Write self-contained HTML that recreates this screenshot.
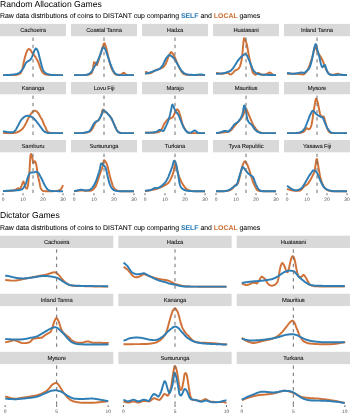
<!DOCTYPE html>
<html><head><meta charset="utf-8"><style>html,body{margin:0;padding:0;background:#fff;width:350px;height:413px;overflow:hidden}</style></head>
<body>
<svg width="350" height="413" viewBox="0 0 350 413" style="display:block">
<rect width="350" height="413" fill="#fff"/>
<rect x="0.00" y="23.90" width="66.00" height="12.3" fill="#D9D9D9"/>
<path d="M3.0,75.1 L3.5,75.1 L4.0,75.1 L4.5,75.1 L5.0,75.1 L5.5,75.1 L6.0,75.1 L6.5,75.1 L7.0,75.1 L7.5,75.1 L8.0,75.1 L8.5,75.1 L9.0,75.1 L9.5,75.1 L10.0,75.1 L10.5,75.1 L11.0,75.0 L11.5,75.0 L12.0,75.0 L12.5,75.0 L13.0,75.0 L13.5,75.0 L14.0,75.0 L14.5,75.0 L15.0,75.0 L15.5,74.9 L16.0,74.8 L16.5,74.8 L17.0,74.7 L17.5,74.6 L18.0,74.5 L18.5,74.4 L19.0,74.2 L19.5,73.9 L20.0,73.5 L20.5,73.1 L21.0,72.4 L21.5,71.4 L22.0,70.1 L22.5,68.3 L23.0,66.1 L23.5,63.5 L24.0,61.0 L24.5,58.9 L25.0,57.1 L25.5,55.4 L26.0,53.8 L26.5,52.3 L27.0,51.0 L27.5,50.2 L28.0,49.6 L28.5,49.1 L29.0,49.0 L29.5,49.2 L30.0,49.6 L30.5,50.0 L31.0,50.8 L31.5,51.7 L32.0,52.6 L32.5,53.3 L33.0,53.9 L33.5,54.5 L34.0,55.1 L34.5,55.7 L35.0,56.4 L35.5,57.1 L36.0,57.9 L36.5,58.7 L37.0,59.6 L37.5,60.5 L38.0,61.5 L38.5,62.7 L39.0,64.1 L39.5,65.6 L40.0,67.0 L40.5,68.4 L41.0,69.6 L41.5,70.6 L42.0,71.6 L42.5,72.3 L43.0,72.9 L43.5,73.4 L44.0,73.7 L44.5,74.0 L45.0,74.2 L45.5,74.3 L46.0,74.5 L46.5,74.6 L47.0,74.7 L47.5,74.7 L48.0,74.8 L48.5,74.8 L49.0,74.9 L49.5,74.9 L50.0,75.0 L50.5,75.0 L51.0,75.0 L51.5,75.0 L52.0,75.1 L52.5,75.1 L53.0,75.1 L53.5,75.1 L54.0,75.1 L54.5,75.1 L55.0,75.1 L55.5,75.1 L56.0,75.1 L56.5,75.1 L57.0,75.1 L57.5,75.1 L58.0,75.1 L58.5,75.1 L59.0,75.1 L59.5,75.1 L60.0,75.1 L60.5,75.1 L61.0,75.1 L61.5,75.1 L62.0,75.1 L62.5,75.1 L63.0,75.1" fill="none" stroke="#D07137" stroke-width="1.95" stroke-linejoin="round"/>
<path d="M3.0,75.1 L3.5,75.1 L4.0,75.1 L4.5,75.1 L5.0,75.1 L5.5,75.1 L6.0,75.1 L6.5,75.0 L7.0,75.0 L7.5,75.0 L8.0,75.0 L8.5,75.0 L9.0,75.0 L9.5,74.9 L10.0,74.9 L10.5,74.8 L11.0,74.8 L11.5,74.7 L12.0,74.7 L12.5,74.6 L13.0,74.6 L13.5,74.5 L14.0,74.5 L14.5,74.4 L15.0,74.3 L15.5,74.2 L16.0,74.1 L16.5,74.0 L17.0,73.9 L17.5,73.7 L18.0,73.5 L18.5,73.3 L19.0,73.1 L19.5,72.7 L20.0,72.3 L20.5,71.8 L21.0,71.3 L21.5,70.7 L22.0,70.1 L22.5,69.4 L23.0,68.6 L23.5,67.7 L24.0,66.7 L24.5,65.7 L25.0,64.6 L25.5,63.6 L26.0,62.9 L26.5,62.3 L27.0,61.9 L27.5,61.5 L28.0,61.2 L28.5,60.9 L29.0,60.7 L29.5,60.4 L30.0,60.0 L30.5,59.5 L31.0,58.7 L31.5,57.9 L32.0,56.8 L32.5,55.6 L33.0,54.3 L33.5,52.9 L34.0,51.5 L34.5,50.5 L35.0,49.5 L35.5,48.7 L36.0,48.5 L36.5,48.8 L37.0,49.5 L37.5,50.3 L38.0,51.5 L38.5,53.3 L39.0,55.3 L39.5,57.2 L40.0,59.2 L40.5,61.1 L41.0,63.1 L41.5,65.2 L42.0,67.2 L42.5,68.6 L43.0,69.7 L43.5,70.7 L44.0,71.5 L44.5,72.1 L45.0,72.6 L45.5,73.0 L46.0,73.3 L46.5,73.6 L47.0,73.9 L47.5,74.1 L48.0,74.2 L48.5,74.4 L49.0,74.5 L49.5,74.6 L50.0,74.7 L50.5,74.8 L51.0,74.8 L51.5,74.9 L52.0,74.9 L52.5,74.9 L53.0,75.0 L53.5,75.0 L54.0,75.0 L54.5,75.0 L55.0,75.1 L55.5,75.1 L56.0,75.1 L56.5,75.1 L57.0,75.1 L57.5,75.1 L58.0,75.1 L58.5,75.1 L59.0,75.1 L59.5,75.1 L60.0,75.1 L60.5,75.1 L61.0,75.1 L61.5,75.1 L62.0,75.1 L62.5,75.1 L63.0,75.1" fill="none" stroke="#2E7DB4" stroke-width="1.95" stroke-linejoin="round"/>
<line x1="33.00" y1="76.95" x2="33.00" y2="36.20" stroke="#6E6E6E" stroke-width="1" stroke-dasharray="3.4 3.8"/>
<rect x="71.00" y="23.90" width="66.00" height="12.3" fill="#D9D9D9"/>
<path d="M74.0,75.1 L74.5,75.1 L75.0,75.1 L75.5,75.1 L76.0,75.1 L76.5,75.1 L77.0,75.1 L77.5,75.1 L78.0,75.1 L78.5,75.1 L79.0,75.1 L79.5,75.1 L80.0,75.1 L80.5,75.1 L81.0,75.1 L81.5,75.1 L82.0,75.1 L82.5,75.1 L83.0,75.1 L83.5,75.1 L84.0,75.1 L84.5,75.1 L85.0,75.1 L85.5,75.1 L86.0,75.0 L86.5,75.0 L87.0,74.9 L87.5,74.8 L88.0,74.7 L88.5,74.6 L89.0,74.5 L89.5,74.3 L90.0,74.1 L90.5,73.9 L91.0,73.6 L91.5,73.2 L92.0,72.3 L92.5,70.4 L93.0,68.0 L93.5,65.0 L94.0,62.3 L94.5,62.4 L95.0,62.7 L95.5,63.3 L96.0,64.2 L96.5,64.9 L97.0,65.0 L97.5,63.8 L98.0,62.2 L98.5,60.7 L99.0,59.2 L99.5,57.5 L100.0,55.8 L100.5,54.1 L101.0,52.5 L101.5,50.8 L102.0,49.1 L102.5,47.5 L103.0,46.0 L103.5,44.6 L104.0,43.4 L104.5,43.2 L105.0,44.1 L105.5,45.5 L106.0,47.1 L106.5,48.9 L107.0,51.1 L107.5,53.4 L108.0,55.6 L108.5,57.8 L109.0,60.0 L109.5,62.0 L110.0,63.8 L110.5,65.3 L111.0,66.8 L111.5,68.1 L112.0,69.3 L112.5,70.4 L113.0,71.3 L113.5,72.1 L114.0,72.8 L114.5,73.5 L115.0,74.1 L115.5,74.4 L116.0,74.6 L116.5,74.7 L117.0,74.8 L117.5,74.9 L118.0,74.9 L118.5,74.9 L119.0,74.8 L119.5,74.8 L120.0,74.7 L120.5,74.6 L121.0,74.5 L121.5,74.3 L122.0,73.9 L122.5,73.4 L123.0,73.0 L123.5,72.8 L124.0,72.9 L124.5,73.2 L125.0,73.7 L125.5,74.1 L126.0,74.5 L126.5,74.9 L127.0,75.1 L127.5,75.1 L128.0,75.1 L128.5,75.1 L129.0,75.1 L129.5,75.1 L130.0,75.1 L130.5,75.1 L131.0,75.1 L131.5,75.1 L132.0,75.1 L132.5,75.1 L133.0,75.1 L133.5,75.1 L134.0,75.1" fill="none" stroke="#D07137" stroke-width="1.95" stroke-linejoin="round"/>
<path d="M74.0,75.1 L74.5,75.1 L75.0,75.1 L75.5,75.1 L76.0,75.1 L76.5,75.1 L77.0,75.1 L77.5,75.1 L78.0,75.1 L78.5,75.1 L79.0,75.1 L79.5,75.1 L80.0,75.1 L80.5,75.1 L81.0,75.1 L81.5,75.1 L82.0,75.1 L82.5,75.1 L83.0,75.1 L83.5,75.1 L84.0,75.1 L84.5,75.0 L85.0,75.0 L85.5,75.0 L86.0,74.9 L86.5,74.8 L87.0,74.7 L87.5,74.5 L88.0,74.3 L88.5,74.1 L89.0,73.8 L89.5,73.5 L90.0,73.2 L90.5,72.8 L91.0,72.3 L91.5,71.7 L92.0,71.0 L92.5,70.3 L93.0,69.4 L93.5,68.4 L94.0,67.5 L94.5,66.5 L95.0,65.7 L95.5,64.9 L96.0,64.0 L96.5,63.2 L97.0,62.2 L97.5,61.2 L98.0,60.0 L98.5,58.9 L99.0,57.7 L99.5,56.5 L100.0,55.2 L100.5,53.8 L101.0,52.4 L101.5,51.0 L102.0,49.4 L102.5,48.3 L103.0,47.6 L103.5,47.4 L104.0,47.7 L104.5,48.2 L105.0,48.8 L105.5,49.8 L106.0,51.1 L106.5,52.4 L107.0,53.9 L107.5,55.5 L108.0,57.0 L108.5,58.4 L109.0,59.8 L109.5,61.2 L110.0,62.6 L110.5,64.0 L111.0,65.3 L111.5,66.6 L112.0,67.9 L112.5,69.0 L113.0,70.1 L113.5,71.1 L114.0,71.9 L114.5,72.6 L115.0,73.2 L115.5,73.7 L116.0,74.0 L116.5,74.3 L117.0,74.5 L117.5,74.7 L118.0,74.8 L118.5,74.9 L119.0,75.0 L119.5,75.0 L120.0,75.1 L120.5,75.1 L121.0,75.1 L121.5,75.1 L122.0,75.1 L122.5,75.1 L123.0,75.1 L123.5,75.1 L124.0,75.1 L124.5,75.1 L125.0,75.1 L125.5,75.1 L126.0,75.1 L126.5,75.1 L127.0,75.1 L127.5,75.1 L128.0,75.1 L128.5,75.1 L129.0,75.1 L129.5,75.1 L130.0,75.1 L130.5,75.1 L131.0,75.1 L131.5,75.1 L132.0,75.1 L132.5,75.1 L133.0,75.1 L133.5,75.1 L134.0,75.1" fill="none" stroke="#2E7DB4" stroke-width="1.95" stroke-linejoin="round"/>
<line x1="104.00" y1="76.95" x2="104.00" y2="36.20" stroke="#6E6E6E" stroke-width="1" stroke-dasharray="3.4 3.8"/>
<rect x="142.00" y="23.90" width="66.00" height="12.3" fill="#D9D9D9"/>
<path d="M145.0,71.9 L145.5,71.9 L146.0,72.0 L146.5,72.2 L147.0,72.4 L147.5,72.6 L148.0,73.1 L148.5,73.4 L149.0,73.4 L149.5,73.3 L150.0,73.1 L150.5,73.0 L151.0,72.8 L151.5,72.6 L152.0,72.3 L152.5,72.1 L153.0,71.8 L153.5,71.5 L154.0,71.2 L154.5,70.9 L155.0,70.6 L155.5,70.3 L156.0,70.1 L156.5,69.9 L157.0,69.7 L157.5,69.5 L158.0,69.4 L158.5,69.2 L159.0,69.0 L159.5,68.9 L160.0,68.7 L160.5,68.6 L161.0,68.4 L161.5,68.2 L162.0,67.9 L162.5,67.6 L163.0,67.2 L163.5,66.7 L164.0,66.2 L164.5,65.6 L165.0,65.0 L165.5,64.2 L166.0,63.2 L166.5,61.9 L167.0,60.6 L167.5,59.4 L168.0,58.0 L168.5,56.7 L169.0,55.5 L169.5,54.5 L170.0,53.5 L170.5,52.6 L171.0,52.2 L171.5,52.2 L172.0,52.7 L172.5,53.4 L173.0,54.1 L173.5,54.9 L174.0,55.8 L174.5,56.8 L175.0,57.8 L175.5,58.9 L176.0,60.2 L176.5,61.4 L177.0,62.5 L177.5,63.6 L178.0,64.6 L178.5,65.7 L179.0,66.7 L179.5,67.8 L180.0,68.9 L180.5,69.9 L181.0,70.8 L181.5,71.6 L182.0,72.3 L182.5,72.9 L183.0,73.4 L183.5,73.8 L184.0,74.1 L184.5,74.3 L185.0,74.4 L185.5,74.5 L186.0,74.6 L186.5,74.7 L187.0,74.8 L187.5,74.8 L188.0,74.9 L188.5,74.9 L189.0,75.0 L189.5,75.0 L190.0,75.0 L190.5,75.1 L191.0,75.1 L191.5,75.1 L192.0,75.1 L192.5,75.1 L193.0,75.1 L193.5,75.1 L194.0,75.1 L194.5,75.1 L195.0,75.1 L195.5,75.1 L196.0,75.1 L196.5,75.1 L197.0,75.1 L197.5,75.1 L198.0,75.1 L198.5,75.1 L199.0,75.1 L199.5,75.1 L200.0,75.1 L200.5,75.1 L201.0,75.1 L201.5,75.1 L202.0,75.1 L202.5,75.1 L203.0,75.1 L203.5,75.1 L204.0,75.1 L204.5,75.1 L205.0,75.1" fill="none" stroke="#D07137" stroke-width="1.95" stroke-linejoin="round"/>
<path d="M145.0,73.8 L145.5,73.7 L146.0,73.6 L146.5,73.5 L147.0,73.4 L147.5,73.2 L148.0,73.1 L148.5,73.0 L149.0,72.8 L149.5,72.7 L150.0,72.5 L150.5,72.4 L151.0,72.2 L151.5,72.0 L152.0,71.8 L152.5,71.6 L153.0,71.4 L153.5,71.2 L154.0,71.0 L154.5,70.9 L155.0,70.7 L155.5,70.5 L156.0,70.4 L156.5,70.2 L157.0,70.0 L157.5,69.8 L158.0,69.6 L158.5,69.4 L159.0,69.1 L159.5,68.8 L160.0,68.4 L160.5,68.0 L161.0,67.5 L161.5,67.0 L162.0,66.3 L162.5,65.6 L163.0,64.7 L163.5,63.7 L164.0,62.7 L164.5,61.5 L165.0,60.4 L165.5,59.4 L166.0,58.6 L166.5,57.8 L167.0,57.1 L167.5,56.6 L168.0,56.0 L168.5,55.5 L169.0,55.2 L169.5,55.1 L170.0,55.3 L170.5,55.5 L171.0,55.9 L171.5,56.2 L172.0,56.6 L172.5,57.0 L173.0,57.4 L173.5,57.9 L174.0,58.5 L174.5,59.1 L175.0,59.7 L175.5,60.5 L176.0,61.3 L176.5,62.3 L177.0,63.2 L177.5,64.2 L178.0,65.1 L178.5,66.0 L179.0,66.9 L179.5,67.8 L180.0,68.6 L180.5,69.3 L181.0,70.1 L181.5,70.7 L182.0,71.3 L182.5,71.8 L183.0,72.3 L183.5,72.8 L184.0,73.2 L184.5,73.5 L185.0,73.7 L185.5,73.9 L186.0,74.1 L186.5,74.3 L187.0,74.4 L187.5,74.5 L188.0,74.5 L188.5,74.6 L189.0,74.7 L189.5,74.7 L190.0,74.7 L190.5,74.8 L191.0,74.8 L191.5,74.8 L192.0,74.8 L192.5,74.9 L193.0,74.9 L193.5,74.9 L194.0,74.9 L194.5,74.9 L195.0,74.9 L195.5,74.9 L196.0,74.9 L196.5,74.8 L197.0,74.8 L197.5,74.7 L198.0,74.7 L198.5,74.6 L199.0,74.6 L199.5,74.5 L200.0,74.4 L200.5,74.4 L201.0,74.4 L201.5,74.5 L202.0,74.6 L202.5,74.7 L203.0,74.8 L203.5,74.9 L204.0,74.9 L204.5,75.0 L205.0,75.1" fill="none" stroke="#2E7DB4" stroke-width="1.95" stroke-linejoin="round"/>
<line x1="175.00" y1="76.95" x2="175.00" y2="36.20" stroke="#6E6E6E" stroke-width="1" stroke-dasharray="3.4 3.8"/>
<rect x="213.00" y="23.90" width="66.00" height="12.3" fill="#D9D9D9"/>
<path d="M216.0,72.9 L216.5,73.0 L217.0,73.0 L217.5,73.1 L218.0,73.2 L218.5,73.2 L219.0,73.3 L219.5,73.5 L220.0,73.6 L220.5,73.7 L221.0,73.8 L221.5,73.8 L222.0,73.8 L222.5,73.7 L223.0,73.6 L223.5,73.5 L224.0,73.5 L224.5,73.4 L225.0,73.2 L225.5,73.1 L226.0,73.0 L226.5,72.9 L227.0,72.9 L227.5,73.0 L228.0,73.2 L228.5,73.4 L229.0,73.7 L229.5,74.1 L230.0,74.4 L230.5,74.5 L231.0,74.3 L231.5,74.1 L232.0,73.7 L232.5,73.3 L233.0,72.9 L233.5,72.3 L234.0,71.6 L234.5,71.0 L235.0,70.6 L235.5,70.4 L236.0,70.1 L236.5,69.8 L237.0,69.6 L237.5,69.4 L238.0,69.1 L238.5,68.7 L239.0,68.1 L239.5,67.2 L240.0,66.1 L240.5,64.7 L241.0,62.9 L241.5,60.6 L242.0,57.3 L242.5,52.7 L243.0,47.0 L243.5,41.6 L244.0,38.2 L244.5,38.4 L245.0,39.4 L245.5,40.5 L246.0,41.8 L246.5,43.3 L247.0,45.3 L247.5,48.0 L248.0,50.7 L248.5,53.5 L249.0,56.1 L249.5,58.6 L250.0,61.1 L250.5,63.5 L251.0,65.7 L251.5,67.8 L252.0,69.8 L252.5,71.7 L253.0,72.7 L253.5,73.4 L254.0,73.9 L254.5,74.3 L255.0,74.6 L255.5,74.7 L256.0,74.5 L256.5,74.1 L257.0,73.8 L257.5,73.3 L258.0,73.0 L258.5,72.9 L259.0,73.2 L259.5,73.6 L260.0,73.9 L260.5,74.2 L261.0,74.5 L261.5,74.7 L262.0,74.8 L262.5,74.8 L263.0,74.8 L263.5,74.8 L264.0,74.8 L264.5,74.8 L265.0,74.8 L265.5,74.7 L266.0,74.5 L266.5,74.2 L267.0,73.9 L267.5,73.6 L268.0,73.3 L268.5,73.0 L269.0,72.7 L269.5,72.5 L270.0,72.6 L270.5,72.9 L271.0,73.2 L271.5,73.6 L272.0,74.0 L272.5,74.4 L273.0,74.7 L273.5,74.8 L274.0,74.9 L274.5,75.0 L275.0,75.1 L275.5,75.1 L276.0,75.1" fill="none" stroke="#D07137" stroke-width="1.95" stroke-linejoin="round"/>
<path d="M216.0,73.8 L216.5,73.8 L217.0,73.8 L217.5,73.7 L218.0,73.7 L218.5,73.7 L219.0,73.6 L219.5,73.6 L220.0,73.6 L220.5,73.5 L221.0,73.5 L221.5,73.4 L222.0,73.4 L222.5,73.3 L223.0,73.3 L223.5,73.2 L224.0,73.1 L224.5,73.0 L225.0,72.9 L225.5,72.8 L226.0,72.6 L226.5,72.4 L227.0,72.2 L227.5,72.0 L228.0,71.8 L228.5,71.6 L229.0,71.5 L229.5,71.3 L230.0,71.0 L230.5,70.8 L231.0,70.5 L231.5,70.0 L232.0,69.4 L232.5,68.8 L233.0,68.2 L233.5,67.6 L234.0,66.8 L234.5,66.1 L235.0,65.3 L235.5,64.5 L236.0,63.6 L236.5,62.8 L237.0,62.0 L237.5,61.3 L238.0,60.6 L238.5,59.9 L239.0,59.3 L239.5,58.7 L240.0,58.1 L240.5,57.5 L241.0,57.0 L241.5,56.5 L242.0,56.1 L242.5,55.6 L243.0,55.3 L243.5,54.9 L244.0,54.6 L244.5,54.3 L245.0,54.0 L245.5,54.1 L246.0,54.4 L246.5,54.9 L247.0,55.6 L247.5,56.7 L248.0,57.8 L248.5,58.9 L249.0,60.0 L249.5,61.1 L250.0,62.3 L250.5,63.5 L251.0,64.9 L251.5,66.1 L252.0,67.3 L252.5,68.6 L253.0,69.7 L253.5,70.6 L254.0,71.3 L254.5,71.8 L255.0,72.3 L255.5,72.7 L256.0,73.0 L256.5,73.3 L257.0,73.5 L257.5,73.8 L258.0,73.9 L258.5,74.0 L259.0,74.2 L259.5,74.3 L260.0,74.4 L260.5,74.4 L261.0,74.5 L261.5,74.6 L262.0,74.6 L262.5,74.6 L263.0,74.7 L263.5,74.7 L264.0,74.7 L264.5,74.7 L265.0,74.8 L265.5,74.8 L266.0,74.8 L266.5,74.8 L267.0,74.8 L267.5,74.9 L268.0,74.9 L268.5,74.9 L269.0,74.9 L269.5,74.9 L270.0,74.9 L270.5,75.0 L271.0,75.0 L271.5,75.0 L272.0,75.0 L272.5,75.0 L273.0,75.0 L273.5,75.0 L274.0,75.1 L274.5,75.1 L275.0,75.1 L275.5,75.1 L276.0,75.1" fill="none" stroke="#2E7DB4" stroke-width="1.95" stroke-linejoin="round"/>
<line x1="246.00" y1="76.95" x2="246.00" y2="36.20" stroke="#6E6E6E" stroke-width="1" stroke-dasharray="3.4 3.8"/>
<rect x="284.00" y="23.90" width="66.00" height="12.3" fill="#D9D9D9"/>
<path d="M287.0,73.8 L287.5,73.8 L288.0,73.8 L288.5,73.8 L289.0,73.8 L289.5,73.8 L290.0,73.8 L290.5,73.8 L291.0,73.8 L291.5,73.8 L292.0,73.8 L292.5,73.8 L293.0,73.8 L293.5,73.8 L294.0,73.8 L294.5,73.8 L295.0,73.8 L295.5,73.8 L296.0,73.8 L296.5,73.8 L297.0,73.8 L297.5,73.9 L298.0,73.9 L298.5,74.0 L299.0,74.0 L299.5,74.1 L300.0,74.1 L300.5,74.2 L301.0,74.2 L301.5,74.3 L302.0,74.3 L302.5,74.4 L303.0,74.4 L303.5,74.4 L304.0,74.2 L304.5,73.8 L305.0,73.4 L305.5,72.9 L306.0,72.3 L306.5,71.6 L307.0,70.8 L307.5,69.9 L308.0,68.9 L308.5,67.8 L309.0,66.5 L309.5,65.3 L310.0,64.0 L310.5,62.6 L311.0,61.2 L311.5,59.7 L312.0,58.1 L312.5,56.5 L313.0,54.7 L313.5,52.7 L314.0,49.8 L314.5,47.6 L315.0,47.5 L315.5,48.1 L316.0,48.9 L316.5,49.8 L317.0,50.6 L317.5,51.5 L318.0,52.4 L318.5,53.3 L319.0,54.2 L319.5,55.0 L320.0,55.8 L320.5,56.6 L321.0,57.4 L321.5,58.3 L322.0,59.2 L322.5,60.2 L323.0,61.3 L323.5,62.7 L324.0,64.1 L324.5,65.5 L325.0,66.9 L325.5,68.1 L326.0,69.2 L326.5,70.2 L327.0,71.1 L327.5,71.8 L328.0,72.5 L328.5,73.1 L329.0,73.6 L329.5,74.1 L330.0,74.4 L330.5,74.7 L331.0,74.8 L331.5,74.8 L332.0,74.8 L332.5,74.7 L333.0,74.7 L333.5,74.7 L334.0,74.6 L334.5,74.5 L335.0,74.4 L335.5,74.3 L336.0,74.1 L336.5,74.0 L337.0,73.9 L337.5,73.8 L338.0,73.8 L338.5,73.9 L339.0,74.1 L339.5,74.3 L340.0,74.5 L340.5,74.6 L341.0,74.7 L341.5,74.9 L342.0,75.0 L342.5,75.1 L343.0,75.1 L343.5,75.1 L344.0,75.1 L344.5,75.1 L345.0,75.1 L345.5,75.1 L346.0,75.1 L346.5,75.1 L347.0,75.1" fill="none" stroke="#D07137" stroke-width="1.95" stroke-linejoin="round"/>
<path d="M287.0,72.9 L287.5,73.0 L288.0,73.0 L288.5,73.1 L289.0,73.2 L289.5,73.2 L290.0,73.3 L290.5,73.5 L291.0,73.6 L291.5,73.7 L292.0,73.8 L292.5,73.8 L293.0,73.8 L293.5,73.7 L294.0,73.7 L294.5,73.7 L295.0,73.6 L295.5,73.5 L296.0,73.5 L296.5,73.4 L297.0,73.3 L297.5,73.2 L298.0,73.1 L298.5,73.0 L299.0,72.9 L299.5,72.8 L300.0,72.7 L300.5,72.6 L301.0,72.5 L301.5,72.5 L302.0,72.5 L302.5,72.6 L303.0,72.8 L303.5,72.9 L304.0,72.9 L304.5,72.6 L305.0,72.3 L305.5,71.9 L306.0,71.5 L306.5,71.1 L307.0,70.7 L307.5,70.2 L308.0,69.7 L308.5,69.2 L309.0,68.6 L309.5,67.7 L310.0,66.5 L310.5,65.1 L311.0,63.4 L311.5,61.4 L312.0,59.2 L312.5,56.7 L313.0,54.1 L313.5,51.6 L314.0,49.3 L314.5,47.2 L315.0,45.5 L315.5,44.2 L316.0,44.4 L316.5,46.4 L317.0,48.6 L317.5,50.4 L318.0,52.2 L318.5,54.0 L319.0,55.8 L319.5,57.6 L320.0,59.7 L320.5,62.2 L321.0,64.3 L321.5,65.7 L322.0,66.7 L322.5,67.2 L323.0,66.8 L323.5,66.0 L324.0,65.5 L324.5,65.0 L325.0,65.0 L325.5,66.2 L326.0,67.9 L326.5,69.4 L327.0,70.9 L327.5,72.1 L328.0,72.9 L328.5,73.6 L329.0,74.1 L329.5,74.3 L330.0,74.5 L330.5,74.7 L331.0,74.8 L331.5,74.9 L332.0,75.0 L332.5,75.1 L333.0,75.1 L333.5,75.1 L334.0,75.1 L334.5,75.1 L335.0,75.0 L335.5,75.0 L336.0,74.9 L336.5,74.9 L337.0,74.9 L337.5,74.8 L338.0,74.8 L338.5,74.8 L339.0,74.8 L339.5,74.8 L340.0,74.8 L340.5,74.8 L341.0,74.8 L341.5,74.8 L342.0,74.8 L342.5,74.8 L343.0,74.9 L343.5,74.9 L344.0,74.9 L344.5,74.9 L345.0,75.0 L345.5,75.0 L346.0,75.0 L346.5,75.1 L347.0,75.1" fill="none" stroke="#2E7DB4" stroke-width="1.95" stroke-linejoin="round"/>
<line x1="317.00" y1="76.95" x2="317.00" y2="36.20" stroke="#6E6E6E" stroke-width="1" stroke-dasharray="3.4 3.8"/>
<rect x="0.00" y="81.95" width="66.00" height="12.3" fill="#D9D9D9"/>
<path d="M3.0,132.7 L3.5,132.8 L4.0,132.8 L4.5,132.9 L5.0,132.9 L5.5,132.9 L6.0,133.0 L6.5,133.0 L7.0,133.0 L7.5,133.0 L8.0,133.0 L8.5,133.1 L9.0,133.1 L9.5,133.1 L10.0,133.1 L10.5,133.1 L11.0,133.1 L11.5,133.1 L12.0,133.1 L12.5,133.1 L13.0,133.1 L13.5,133.1 L14.0,133.0 L14.5,132.9 L15.0,132.8 L15.5,132.8 L16.0,132.6 L16.5,132.5 L17.0,132.4 L17.5,132.2 L18.0,132.0 L18.5,131.7 L19.0,131.4 L19.5,131.1 L20.0,130.8 L20.5,130.5 L21.0,130.1 L21.5,129.6 L22.0,129.2 L22.5,128.7 L23.0,128.1 L23.5,127.4 L24.0,126.7 L24.5,125.9 L25.0,125.0 L25.5,124.1 L26.0,123.2 L26.5,122.2 L27.0,121.1 L27.5,120.0 L28.0,118.9 L28.5,118.0 L29.0,117.1 L29.5,116.2 L30.0,115.3 L30.5,114.5 L31.0,113.8 L31.5,113.1 L32.0,112.6 L32.5,111.9 L33.0,111.4 L33.5,111.0 L34.0,110.7 L34.5,110.7 L35.0,110.7 L35.5,110.9 L36.0,111.1 L36.5,111.3 L37.0,111.7 L37.5,112.2 L38.0,112.9 L38.5,113.6 L39.0,114.3 L39.5,115.2 L40.0,116.2 L40.5,117.1 L41.0,118.0 L41.5,118.8 L42.0,119.6 L42.5,120.6 L43.0,121.8 L43.5,123.2 L44.0,124.4 L44.5,125.5 L45.0,126.4 L45.5,127.3 L46.0,128.5 L46.5,129.8 L47.0,131.0 L47.5,131.6 L48.0,132.0 L48.5,132.4 L49.0,132.6 L49.5,132.7 L50.0,132.8 L50.5,132.9 L51.0,133.0 L51.5,133.1 L52.0,133.1 L52.5,133.1 L53.0,133.1 L53.5,133.1 L54.0,133.1 L54.5,133.1 L55.0,133.1 L55.5,133.1 L56.0,133.1 L56.5,133.1 L57.0,133.1 L57.5,133.1 L58.0,133.1 L58.5,133.1 L59.0,133.1 L59.5,133.1 L60.0,133.1 L60.5,133.1 L61.0,133.1 L61.5,133.1 L62.0,133.1 L62.5,133.1 L63.0,133.1" fill="none" stroke="#D07137" stroke-width="1.95" stroke-linejoin="round"/>
<path d="M3.0,131.3 L3.5,131.4 L4.0,131.5 L4.5,131.5 L5.0,131.6 L5.5,131.7 L6.0,131.7 L6.5,131.8 L7.0,132.0 L7.5,132.1 L8.0,132.2 L8.5,132.3 L9.0,132.3 L9.5,132.3 L10.0,132.3 L10.5,132.3 L11.0,132.3 L11.5,132.3 L12.0,132.3 L12.5,132.3 L13.0,132.2 L13.5,131.9 L14.0,131.6 L14.5,131.2 L15.0,130.7 L15.5,130.2 L16.0,129.4 L16.5,128.5 L17.0,127.5 L17.5,126.6 L18.0,125.7 L18.5,124.7 L19.0,123.8 L19.5,122.8 L20.0,121.9 L20.5,121.0 L21.0,120.2 L21.5,119.6 L22.0,119.0 L22.5,118.5 L23.0,118.0 L23.5,117.5 L24.0,117.2 L24.5,116.8 L25.0,116.5 L25.5,116.2 L26.0,116.1 L26.5,115.9 L27.0,115.8 L27.5,115.7 L28.0,115.8 L28.5,115.9 L29.0,116.0 L29.5,116.1 L30.0,116.2 L30.5,116.4 L31.0,116.6 L31.5,116.8 L32.0,117.1 L32.5,117.4 L33.0,117.8 L33.5,118.2 L34.0,118.7 L34.5,119.2 L35.0,119.7 L35.5,120.3 L36.0,120.9 L36.5,121.6 L37.0,122.2 L37.5,122.9 L38.0,123.5 L38.5,124.2 L39.0,124.8 L39.5,125.5 L40.0,126.2 L40.5,126.8 L41.0,127.5 L41.5,128.2 L42.0,128.9 L42.5,129.6 L43.0,130.2 L43.5,130.7 L44.0,131.2 L44.5,131.6 L45.0,132.0 L45.5,132.2 L46.0,132.4 L46.5,132.6 L47.0,132.8 L47.5,132.9 L48.0,132.9 L48.5,133.0 L49.0,133.1 L49.5,133.1 L50.0,133.1 L50.5,133.1 L51.0,133.1 L51.5,133.1 L52.0,133.1 L52.5,133.1 L53.0,133.1 L53.5,133.1 L54.0,133.1 L54.5,133.1 L55.0,133.1 L55.5,133.1 L56.0,133.1 L56.5,133.1 L57.0,133.1 L57.5,133.1 L58.0,133.1 L58.5,133.1 L59.0,133.1 L59.5,133.1 L60.0,133.1 L60.5,133.1 L61.0,133.1 L61.5,133.1 L62.0,133.1 L62.5,133.1 L63.0,133.1" fill="none" stroke="#2E7DB4" stroke-width="1.95" stroke-linejoin="round"/>
<line x1="33.00" y1="135.00" x2="33.00" y2="94.25" stroke="#6E6E6E" stroke-width="1" stroke-dasharray="3.4 3.8"/>
<rect x="71.00" y="81.95" width="66.00" height="12.3" fill="#D9D9D9"/>
<path d="M74.0,133.1 L74.5,133.1 L75.0,133.1 L75.5,133.1 L76.0,133.1 L76.5,133.1 L77.0,133.1 L77.5,133.1 L78.0,133.1 L78.5,133.1 L79.0,133.1 L79.5,133.1 L80.0,133.1 L80.5,133.1 L81.0,133.1 L81.5,133.1 L82.0,133.1 L82.5,133.1 L83.0,133.0 L83.5,133.0 L84.0,132.9 L84.5,132.8 L85.0,132.8 L85.5,132.7 L86.0,132.6 L86.5,132.5 L87.0,132.4 L87.5,132.3 L88.0,132.2 L88.5,132.0 L89.0,131.8 L89.5,131.6 L90.0,131.3 L90.5,131.0 L91.0,130.6 L91.5,130.0 L92.0,129.4 L92.5,128.6 L93.0,127.7 L93.5,126.6 L94.0,125.5 L94.5,124.5 L95.0,123.6 L95.5,122.7 L96.0,122.1 L96.5,121.6 L97.0,121.3 L97.5,121.0 L98.0,120.6 L98.5,120.1 L99.0,119.4 L99.5,118.6 L100.0,117.8 L100.5,116.9 L101.0,115.9 L101.5,114.4 L102.0,111.9 L102.5,109.8 L103.0,109.6 L103.5,110.0 L104.0,110.6 L104.5,111.1 L105.0,111.6 L105.5,111.9 L106.0,112.3 L106.5,112.7 L107.0,113.1 L107.5,113.6 L108.0,114.1 L108.5,114.6 L109.0,115.1 L109.5,115.7 L110.0,116.3 L110.5,117.0 L111.0,117.8 L111.5,118.5 L112.0,119.5 L112.5,120.6 L113.0,121.7 L113.5,122.9 L114.0,124.0 L114.5,125.2 L115.0,126.4 L115.5,127.5 L116.0,128.6 L116.5,129.6 L117.0,130.5 L117.5,131.1 L118.0,131.7 L118.5,132.1 L119.0,132.4 L119.5,132.7 L120.0,132.8 L120.5,132.9 L121.0,133.0 L121.5,133.1 L122.0,133.1 L122.5,133.1 L123.0,133.1 L123.5,133.1 L124.0,133.1 L124.5,133.1 L125.0,133.1 L125.5,133.1 L126.0,133.1 L126.5,133.1 L127.0,133.1 L127.5,133.1 L128.0,133.1 L128.5,133.1 L129.0,133.1 L129.5,133.1 L130.0,133.1 L130.5,133.1 L131.0,133.1 L131.5,133.1 L132.0,133.1 L132.5,133.1 L133.0,133.1 L133.5,133.1 L134.0,133.1" fill="none" stroke="#D07137" stroke-width="1.95" stroke-linejoin="round"/>
<path d="M74.0,133.1 L74.5,133.1 L75.0,133.1 L75.5,133.1 L76.0,133.1 L76.5,133.1 L77.0,133.1 L77.5,133.1 L78.0,133.1 L78.5,133.1 L79.0,133.1 L79.5,133.1 L80.0,133.1 L80.5,133.1 L81.0,133.1 L81.5,133.1 L82.0,133.1 L82.5,133.0 L83.0,133.0 L83.5,132.9 L84.0,132.8 L84.5,132.7 L85.0,132.6 L85.5,132.5 L86.0,132.4 L86.5,132.3 L87.0,132.2 L87.5,132.0 L88.0,131.8 L88.5,131.6 L89.0,131.3 L89.5,131.0 L90.0,130.6 L90.5,129.9 L91.0,129.1 L91.5,128.2 L92.0,127.3 L92.5,126.2 L93.0,125.2 L93.5,124.2 L94.0,123.5 L94.5,122.9 L95.0,122.3 L95.5,121.9 L96.0,121.6 L96.5,121.3 L97.0,121.1 L97.5,120.9 L98.0,120.6 L98.5,120.2 L99.0,119.6 L99.5,118.8 L100.0,117.9 L100.5,116.8 L101.0,115.7 L101.5,114.7 L102.0,113.7 L102.5,112.5 L103.0,110.8 L103.5,110.1 L104.0,110.3 L104.5,110.7 L105.0,111.2 L105.5,111.6 L106.0,112.1 L106.5,112.5 L107.0,113.0 L107.5,113.5 L108.0,114.1 L108.5,114.6 L109.0,115.3 L109.5,115.9 L110.0,116.5 L110.5,117.1 L111.0,117.8 L111.5,118.5 L112.0,119.5 L112.5,120.6 L113.0,121.7 L113.5,122.9 L114.0,124.0 L114.5,125.2 L115.0,126.4 L115.5,127.5 L116.0,128.6 L116.5,129.6 L117.0,130.5 L117.5,131.1 L118.0,131.7 L118.5,132.1 L119.0,132.4 L119.5,132.7 L120.0,132.8 L120.5,132.9 L121.0,133.0 L121.5,133.1 L122.0,133.1 L122.5,133.1 L123.0,133.1 L123.5,133.1 L124.0,133.1 L124.5,133.1 L125.0,133.1 L125.5,133.1 L126.0,133.1 L126.5,133.1 L127.0,133.1 L127.5,133.1 L128.0,133.1 L128.5,133.1 L129.0,133.1 L129.5,133.1 L130.0,133.1 L130.5,133.1 L131.0,133.1 L131.5,133.1 L132.0,133.1 L132.5,133.1 L133.0,133.1 L133.5,133.1 L134.0,133.1" fill="none" stroke="#2E7DB4" stroke-width="1.95" stroke-linejoin="round"/>
<line x1="104.00" y1="135.00" x2="104.00" y2="94.25" stroke="#6E6E6E" stroke-width="1" stroke-dasharray="3.4 3.8"/>
<rect x="142.00" y="81.95" width="66.00" height="12.3" fill="#D9D9D9"/>
<path d="M145.0,132.8 L145.5,132.8 L146.0,132.8 L146.5,132.8 L147.0,132.8 L147.5,132.8 L148.0,132.8 L148.5,132.8 L149.0,132.8 L149.5,132.8 L150.0,132.8 L150.5,132.8 L151.0,132.8 L151.5,132.8 L152.0,132.8 L152.5,132.8 L153.0,132.8 L153.5,132.8 L154.0,132.8 L154.5,132.7 L155.0,132.7 L155.5,132.6 L156.0,132.6 L156.5,132.5 L157.0,132.4 L157.5,132.3 L158.0,132.2 L158.5,132.0 L159.0,131.9 L159.5,131.6 L160.0,131.2 L160.5,130.7 L161.0,130.0 L161.5,129.4 L162.0,128.5 L162.5,127.6 L163.0,126.5 L163.5,125.3 L164.0,124.2 L164.5,123.4 L165.0,122.7 L165.5,122.0 L166.0,121.4 L166.5,120.8 L167.0,120.1 L167.5,119.6 L168.0,119.1 L168.5,118.9 L169.0,118.7 L169.5,118.6 L170.0,118.5 L170.5,118.3 L171.0,118.2 L171.5,117.9 L172.0,117.7 L172.5,117.3 L173.0,116.8 L173.5,115.9 L174.0,114.7 L174.5,113.6 L175.0,112.7 L175.5,111.7 L176.0,110.8 L176.5,110.0 L177.0,109.4 L177.5,109.5 L178.0,110.0 L178.5,110.6 L179.0,111.7 L179.5,113.2 L180.0,114.8 L180.5,116.7 L181.0,118.6 L181.5,120.6 L182.0,122.6 L182.5,124.2 L183.0,125.5 L183.5,126.5 L184.0,127.5 L184.5,128.3 L185.0,129.1 L185.5,129.9 L186.0,130.5 L186.5,131.1 L187.0,131.6 L187.5,132.0 L188.0,132.4 L188.5,132.6 L189.0,132.7 L189.5,132.9 L190.0,132.9 L190.5,133.0 L191.0,133.0 L191.5,133.1 L192.0,133.1 L192.5,133.1 L193.0,133.1 L193.5,133.1 L194.0,133.1 L194.5,133.1 L195.0,133.1 L195.5,133.1 L196.0,133.1 L196.5,133.1 L197.0,133.1 L197.5,133.1 L198.0,133.1 L198.5,133.1 L199.0,133.1 L199.5,133.1 L200.0,133.1 L200.5,133.1 L201.0,133.1 L201.5,133.1 L202.0,133.1 L202.5,133.1 L203.0,133.1 L203.5,133.1 L204.0,133.1 L204.5,133.1 L205.0,133.1" fill="none" stroke="#D07137" stroke-width="1.95" stroke-linejoin="round"/>
<path d="M145.0,132.7 L145.5,132.7 L146.0,132.7 L146.5,132.7 L147.0,132.7 L147.5,132.7 L148.0,132.7 L148.5,132.7 L149.0,132.7 L149.5,132.7 L150.0,132.7 L150.5,132.6 L151.0,132.6 L151.5,132.6 L152.0,132.5 L152.5,132.5 L153.0,132.4 L153.5,132.4 L154.0,132.3 L154.5,132.2 L155.0,132.1 L155.5,132.0 L156.0,131.9 L156.5,131.7 L157.0,131.6 L157.5,131.2 L158.0,130.8 L158.5,130.4 L159.0,130.0 L159.5,129.9 L160.0,129.9 L160.5,130.0 L161.0,130.1 L161.5,130.2 L162.0,130.6 L162.5,130.9 L163.0,131.1 L163.5,130.9 L164.0,130.2 L164.5,129.2 L165.0,128.3 L165.5,127.2 L166.0,126.1 L166.5,124.9 L167.0,123.8 L167.5,122.5 L168.0,121.3 L168.5,119.9 L169.0,118.3 L169.5,116.6 L170.0,114.7 L170.5,112.6 L171.0,110.3 L171.5,108.0 L172.0,105.3 L172.5,104.6 L173.0,105.4 L173.5,106.4 L174.0,107.6 L174.5,108.9 L175.0,110.0 L175.5,111.0 L176.0,111.8 L176.5,112.5 L177.0,113.0 L177.5,113.5 L178.0,114.2 L178.5,115.1 L179.0,116.2 L179.5,117.4 L180.0,118.6 L180.5,119.9 L181.0,121.2 L181.5,122.5 L182.0,123.7 L182.5,124.9 L183.0,126.0 L183.5,127.0 L184.0,128.0 L184.5,128.8 L185.0,129.6 L185.5,130.3 L186.0,130.9 L186.5,131.5 L187.0,132.0 L187.5,132.5 L188.0,132.7 L188.5,132.7 L189.0,132.7 L189.5,132.7 L190.0,132.7 L190.5,132.6 L191.0,132.5 L191.5,132.3 L192.0,132.0 L192.5,131.7 L193.0,131.4 L193.5,131.1 L194.0,130.7 L194.5,130.5 L195.0,130.5 L195.5,130.8 L196.0,131.2 L196.5,131.6 L197.0,132.1 L197.5,132.5 L198.0,132.9 L198.5,133.1 L199.0,133.1 L199.5,133.1 L200.0,133.1 L200.5,133.1 L201.0,133.1 L201.5,133.1 L202.0,133.1 L202.5,133.1 L203.0,133.1 L203.5,133.1 L204.0,133.1 L204.5,133.1 L205.0,133.1" fill="none" stroke="#2E7DB4" stroke-width="1.95" stroke-linejoin="round"/>
<line x1="175.00" y1="135.00" x2="175.00" y2="94.25" stroke="#6E6E6E" stroke-width="1" stroke-dasharray="3.4 3.8"/>
<rect x="213.00" y="81.95" width="66.00" height="12.3" fill="#D9D9D9"/>
<path d="M216.0,133.1 L216.5,133.1 L217.0,133.1 L217.5,133.0 L218.0,133.0 L218.5,132.9 L219.0,132.9 L219.5,132.8 L220.0,132.8 L220.5,132.7 L221.0,132.6 L221.5,132.6 L222.0,132.5 L222.5,132.5 L223.0,132.4 L223.5,132.4 L224.0,132.3 L224.5,132.3 L225.0,132.2 L225.5,132.2 L226.0,132.1 L226.5,132.1 L227.0,132.1 L227.5,132.0 L228.0,131.9 L228.5,131.7 L229.0,131.5 L229.5,131.2 L230.0,130.9 L230.5,130.6 L231.0,130.2 L231.5,129.7 L232.0,129.2 L232.5,128.6 L233.0,128.0 L233.5,127.3 L234.0,126.7 L234.5,126.0 L235.0,125.5 L235.5,124.9 L236.0,124.4 L236.5,123.8 L237.0,123.2 L237.5,122.6 L238.0,122.0 L238.5,121.4 L239.0,121.0 L239.5,120.5 L240.0,119.9 L240.5,119.3 L241.0,118.6 L241.5,117.9 L242.0,117.2 L242.5,116.5 L243.0,115.6 L243.5,114.4 L244.0,112.7 L244.5,111.1 L245.0,109.5 L245.5,108.2 L246.0,108.4 L246.5,109.3 L247.0,110.5 L247.5,111.6 L248.0,112.7 L248.5,113.9 L249.0,115.1 L249.5,116.3 L250.0,117.6 L250.5,118.8 L251.0,119.9 L251.5,121.1 L252.0,122.3 L252.5,123.4 L253.0,124.4 L253.5,125.3 L254.0,126.2 L254.5,126.9 L255.0,127.6 L255.5,128.3 L256.0,129.0 L256.5,129.6 L257.0,130.2 L257.5,130.7 L258.0,131.2 L258.5,131.6 L259.0,131.9 L259.5,132.3 L260.0,132.5 L260.5,132.7 L261.0,132.8 L261.5,132.9 L262.0,133.0 L262.5,133.1 L263.0,133.1 L263.5,133.1 L264.0,133.1 L264.5,133.1 L265.0,133.1 L265.5,133.1 L266.0,133.1 L266.5,133.1 L267.0,133.1 L267.5,133.1 L268.0,133.1 L268.5,133.1 L269.0,133.1 L269.5,133.1 L270.0,133.1 L270.5,133.1 L271.0,133.1 L271.5,133.1 L272.0,133.1 L272.5,133.1 L273.0,133.1 L273.5,133.1 L274.0,133.1 L274.5,133.1 L275.0,133.1 L275.5,133.1 L276.0,133.1" fill="none" stroke="#D07137" stroke-width="1.95" stroke-linejoin="round"/>
<path d="M216.0,133.1 L216.5,133.1 L217.0,133.0 L217.5,133.0 L218.0,132.9 L218.5,132.8 L219.0,132.7 L219.5,132.6 L220.0,132.5 L220.5,132.3 L221.0,132.2 L221.5,132.0 L222.0,131.8 L222.5,131.7 L223.0,131.4 L223.5,131.2 L224.0,131.1 L224.5,130.9 L225.0,130.9 L225.5,130.9 L226.0,131.0 L226.5,131.1 L227.0,131.4 L227.5,131.7 L228.0,131.7 L228.5,131.5 L229.0,131.0 L229.5,130.5 L230.0,130.0 L230.5,129.4 L231.0,128.9 L231.5,128.3 L232.0,127.7 L232.5,127.0 L233.0,126.3 L233.5,125.6 L234.0,124.8 L234.5,124.2 L235.0,123.8 L235.5,123.5 L236.0,123.1 L236.5,122.9 L237.0,122.6 L237.5,122.3 L238.0,121.9 L238.5,121.3 L239.0,120.6 L239.5,119.9 L240.0,119.2 L240.5,118.5 L241.0,117.6 L241.5,116.4 L242.0,115.3 L242.5,114.0 L243.0,111.4 L243.5,108.4 L244.0,105.6 L244.5,105.5 L245.0,106.6 L245.5,108.3 L246.0,110.9 L246.5,114.3 L247.0,117.9 L247.5,119.6 L248.0,120.8 L248.5,121.7 L249.0,122.5 L249.5,123.1 L250.0,123.5 L250.5,123.8 L251.0,124.2 L251.5,124.6 L252.0,125.2 L252.5,125.9 L253.0,126.8 L253.5,127.6 L254.0,128.4 L254.5,129.0 L255.0,129.6 L255.5,130.1 L256.0,130.6 L256.5,131.0 L257.0,131.3 L257.5,131.6 L258.0,131.9 L258.5,132.1 L259.0,132.3 L259.5,132.5 L260.0,132.7 L260.5,132.8 L261.0,132.9 L261.5,133.0 L262.0,133.1 L262.5,133.1 L263.0,133.1 L263.5,133.1 L264.0,133.1 L264.5,133.1 L265.0,133.1 L265.5,133.1 L266.0,133.1 L266.5,133.1 L267.0,133.1 L267.5,133.1 L268.0,133.1 L268.5,133.1 L269.0,133.1 L269.5,133.1 L270.0,133.1 L270.5,133.1 L271.0,133.1 L271.5,133.1 L272.0,133.1 L272.5,133.1 L273.0,133.1 L273.5,133.1 L274.0,133.1 L274.5,133.1 L275.0,133.1 L275.5,133.1 L276.0,133.1" fill="none" stroke="#2E7DB4" stroke-width="1.95" stroke-linejoin="round"/>
<line x1="246.00" y1="135.00" x2="246.00" y2="94.25" stroke="#6E6E6E" stroke-width="1" stroke-dasharray="3.4 3.8"/>
<rect x="284.00" y="81.95" width="66.00" height="12.3" fill="#D9D9D9"/>
<path d="M287.0,133.1 L287.5,133.1 L288.0,133.1 L288.5,133.1 L289.0,133.1 L289.5,133.1 L290.0,133.1 L290.5,133.1 L291.0,133.1 L291.5,133.1 L292.0,133.1 L292.5,133.1 L293.0,133.1 L293.5,133.1 L294.0,133.1 L294.5,133.1 L295.0,133.1 L295.5,133.1 L296.0,133.1 L296.5,133.1 L297.0,133.1 L297.5,133.1 L298.0,133.1 L298.5,133.0 L299.0,133.0 L299.5,132.9 L300.0,132.9 L300.5,132.8 L301.0,132.7 L301.5,132.6 L302.0,132.4 L302.5,132.3 L303.0,132.1 L303.5,131.8 L304.0,131.5 L304.5,130.9 L305.0,130.3 L305.5,129.5 L306.0,128.5 L306.5,128.0 L307.0,128.3 L307.5,128.6 L308.0,129.1 L308.5,129.3 L309.0,129.2 L309.5,128.9 L310.0,128.5 L310.5,127.7 L311.0,126.6 L311.5,125.0 L312.0,122.3 L312.5,119.2 L313.0,115.4 L313.5,112.2 L314.0,109.3 L314.5,106.2 L315.0,103.2 L315.5,100.4 L316.0,98.8 L316.5,99.1 L317.0,100.1 L317.5,101.8 L318.0,103.9 L318.5,106.2 L319.0,108.7 L319.5,111.6 L320.0,113.6 L320.5,115.1 L321.0,116.0 L321.5,116.6 L322.0,116.6 L322.5,116.5 L323.0,116.4 L323.5,116.4 L324.0,117.0 L324.5,119.0 L325.0,120.9 L325.5,122.8 L326.0,124.6 L326.5,126.3 L327.0,127.9 L327.5,129.2 L328.0,130.3 L328.5,131.1 L329.0,131.7 L329.5,132.2 L330.0,132.5 L330.5,132.8 L331.0,132.9 L331.5,133.0 L332.0,133.1 L332.5,133.1 L333.0,133.1 L333.5,133.1 L334.0,133.1 L334.5,133.1 L335.0,133.1 L335.5,133.1 L336.0,133.1 L336.5,133.1 L337.0,133.1 L337.5,133.1 L338.0,133.1 L338.5,133.1 L339.0,133.1 L339.5,133.1 L340.0,133.1 L340.5,133.1 L341.0,133.1 L341.5,133.1 L342.0,133.1 L342.5,133.1 L343.0,133.1 L343.5,133.1 L344.0,133.1 L344.5,133.1 L345.0,133.1 L345.5,133.1 L346.0,133.1 L346.5,133.1 L347.0,133.1" fill="none" stroke="#D07137" stroke-width="1.95" stroke-linejoin="round"/>
<path d="M287.0,133.1 L287.5,133.1 L288.0,133.1 L288.5,133.1 L289.0,133.1 L289.5,133.1 L290.0,133.1 L290.5,133.1 L291.0,133.1 L291.5,133.1 L292.0,133.1 L292.5,133.1 L293.0,133.1 L293.5,133.1 L294.0,133.1 L294.5,133.1 L295.0,133.1 L295.5,133.1 L296.0,133.0 L296.5,132.9 L297.0,132.9 L297.5,132.8 L298.0,132.7 L298.5,132.7 L299.0,132.6 L299.5,132.5 L300.0,132.3 L300.5,132.2 L301.0,131.9 L301.5,131.7 L302.0,131.4 L302.5,131.0 L303.0,130.5 L303.5,129.9 L304.0,129.2 L304.5,128.5 L305.0,127.6 L305.5,126.6 L306.0,125.4 L306.5,124.3 L307.0,123.0 L307.5,121.7 L308.0,120.4 L308.5,119.1 L309.0,117.6 L309.5,116.3 L310.0,115.2 L310.5,114.2 L311.0,113.3 L311.5,112.3 L312.0,111.4 L312.5,110.7 L313.0,110.8 L313.5,111.1 L314.0,111.6 L314.5,112.0 L315.0,112.6 L315.5,113.2 L316.0,113.8 L316.5,114.2 L317.0,114.6 L317.5,115.0 L318.0,115.3 L318.5,115.7 L319.0,115.9 L319.5,116.2 L320.0,116.5 L320.5,116.7 L321.0,117.0 L321.5,117.2 L322.0,117.4 L322.5,117.5 L323.0,118.0 L323.5,119.1 L324.0,120.4 L324.5,121.7 L325.0,123.0 L325.5,124.2 L326.0,125.4 L326.5,126.5 L327.0,127.4 L327.5,128.3 L328.0,129.1 L328.5,129.9 L329.0,130.5 L329.5,131.1 L330.0,131.6 L330.5,132.1 L331.0,132.4 L331.5,132.6 L332.0,132.8 L332.5,133.0 L333.0,133.0 L333.5,133.1 L334.0,133.1 L334.5,133.1 L335.0,133.1 L335.5,133.1 L336.0,133.1 L336.5,133.1 L337.0,133.1 L337.5,133.1 L338.0,133.1 L338.5,133.1 L339.0,133.1 L339.5,133.1 L340.0,133.1 L340.5,133.1 L341.0,133.1 L341.5,133.1 L342.0,133.1 L342.5,133.1 L343.0,133.1 L343.5,133.1 L344.0,133.1 L344.5,133.1 L345.0,133.1 L345.5,133.1 L346.0,133.1 L346.5,133.1 L347.0,133.1" fill="none" stroke="#2E7DB4" stroke-width="1.95" stroke-linejoin="round"/>
<line x1="317.00" y1="135.00" x2="317.00" y2="94.25" stroke="#6E6E6E" stroke-width="1" stroke-dasharray="3.4 3.8"/>
<rect x="0.00" y="140.00" width="66.00" height="12.3" fill="#D9D9D9"/>
<path d="M3.0,191.1 L3.5,191.1 L4.0,191.1 L4.5,191.1 L5.0,191.1 L5.5,191.1 L6.0,191.1 L6.5,191.0 L7.0,191.0 L7.5,191.0 L8.0,191.0 L8.5,191.0 L9.0,191.0 L9.5,190.9 L10.0,190.9 L10.5,190.9 L11.0,190.8 L11.5,190.8 L12.0,190.7 L12.5,190.7 L13.0,190.6 L13.5,190.4 L14.0,190.3 L14.5,190.1 L15.0,189.9 L15.5,189.6 L16.0,189.4 L16.5,189.2 L17.0,188.9 L17.5,188.6 L18.0,188.3 L18.5,188.4 L19.0,188.7 L19.5,189.1 L20.0,189.2 L20.5,188.3 L21.0,186.9 L21.5,185.8 L22.0,184.6 L22.5,183.3 L23.0,182.0 L23.5,181.5 L24.0,182.8 L24.5,184.3 L25.0,186.1 L25.5,187.1 L26.0,188.0 L26.5,188.5 L27.0,188.5 L27.5,187.3 L28.0,185.1 L28.5,180.7 L29.0,176.2 L29.5,171.2 L30.0,161.5 L30.5,155.2 L31.0,153.9 L31.5,155.0 L32.0,156.5 L32.5,158.8 L33.0,161.8 L33.5,163.0 L34.0,162.0 L34.5,161.4 L35.0,161.3 L35.5,162.4 L36.0,163.7 L36.5,165.7 L37.0,169.6 L37.5,173.3 L38.0,176.2 L38.5,178.4 L39.0,180.3 L39.5,182.6 L40.0,185.2 L40.5,187.5 L41.0,188.8 L41.5,189.5 L42.0,190.2 L42.5,190.6 L43.0,190.9 L43.5,191.0 L44.0,191.1 L44.5,191.1 L45.0,191.2 L45.5,191.2 L46.0,191.2 L46.5,191.2 L47.0,191.2 L47.5,191.2 L48.0,191.2 L48.5,191.2 L49.0,191.2 L49.5,191.2 L50.0,191.2 L50.5,191.2 L51.0,191.2 L51.5,191.2 L52.0,191.2 L52.5,191.2 L53.0,191.2 L53.5,191.2 L54.0,191.1 L54.5,191.1 L55.0,191.1 L55.5,191.0 L56.0,191.0 L56.5,190.9 L57.0,190.9 L57.5,190.8 L58.0,190.7 L58.5,190.6 L59.0,190.4 L59.5,190.2 L60.0,189.9 L60.5,189.5 L61.0,189.0 L61.5,188.4 L62.0,187.5 L62.5,186.4 L63.0,185.2" fill="none" stroke="#D07137" stroke-width="1.95" stroke-linejoin="round"/>
<path d="M3.0,191.0 L3.5,191.0 L4.0,191.0 L4.5,190.9 L5.0,190.9 L5.5,190.9 L6.0,190.9 L6.5,190.8 L7.0,190.8 L7.5,190.8 L8.0,190.7 L8.5,190.7 L9.0,190.6 L9.5,190.6 L10.0,190.5 L10.5,190.5 L11.0,190.4 L11.5,190.4 L12.0,190.4 L12.5,190.4 L13.0,190.4 L13.5,190.4 L14.0,190.4 L14.5,190.4 L15.0,190.4 L15.5,190.4 L16.0,190.4 L16.5,190.3 L17.0,190.3 L17.5,190.3 L18.0,190.2 L18.5,190.2 L19.0,190.1 L19.5,189.9 L20.0,189.8 L20.5,189.7 L21.0,189.6 L21.5,189.5 L22.0,189.3 L22.5,189.0 L23.0,188.4 L23.5,187.7 L24.0,187.0 L24.5,186.3 L25.0,185.5 L25.5,184.5 L26.0,183.3 L26.5,181.7 L27.0,180.1 L27.5,178.4 L28.0,176.9 L28.5,175.5 L29.0,174.4 L29.5,173.5 L30.0,172.8 L30.5,172.6 L31.0,172.6 L31.5,172.5 L32.0,172.5 L32.5,172.5 L33.0,172.5 L33.5,172.4 L34.0,172.3 L34.5,172.2 L35.0,172.1 L35.5,171.9 L36.0,171.8 L36.5,171.8 L37.0,172.0 L37.5,172.2 L38.0,172.6 L38.5,173.1 L39.0,173.8 L39.5,174.7 L40.0,175.6 L40.5,176.6 L41.0,177.5 L41.5,178.5 L42.0,179.5 L42.5,180.6 L43.0,181.7 L43.5,182.8 L44.0,183.8 L44.5,184.7 L45.0,185.6 L45.5,186.5 L46.0,187.3 L46.5,188.1 L47.0,188.8 L47.5,189.3 L48.0,189.7 L48.5,190.1 L49.0,190.3 L49.5,190.5 L50.0,190.7 L50.5,190.8 L51.0,190.9 L51.5,190.9 L52.0,191.0 L52.5,191.0 L53.0,191.0 L53.5,191.1 L54.0,191.1 L54.5,191.1 L55.0,191.1 L55.5,191.1 L56.0,191.1 L56.5,191.1 L57.0,191.1 L57.5,191.1 L58.0,191.2 L58.5,191.2 L59.0,191.2 L59.5,191.2 L60.0,191.2 L60.5,191.2 L61.0,191.2 L61.5,191.2 L62.0,191.2 L62.5,191.2 L63.0,191.2" fill="none" stroke="#2E7DB4" stroke-width="1.95" stroke-linejoin="round"/>
<line x1="33.00" y1="193.05" x2="33.00" y2="152.30" stroke="#6E6E6E" stroke-width="1" stroke-dasharray="3.4 3.8"/>
<rect x="71.00" y="140.00" width="66.00" height="12.3" fill="#D9D9D9"/>
<path d="M74.0,191.2 L74.5,191.2 L75.0,191.1 L75.5,191.1 L76.0,191.0 L76.5,191.0 L77.0,190.9 L77.5,190.9 L78.0,190.8 L78.5,190.7 L79.0,190.6 L79.5,190.6 L80.0,190.5 L80.5,190.5 L81.0,190.5 L81.5,190.5 L82.0,190.5 L82.5,190.6 L83.0,190.6 L83.5,190.6 L84.0,190.6 L84.5,190.7 L85.0,190.7 L85.5,190.7 L86.0,190.7 L86.5,190.7 L87.0,190.7 L87.5,190.7 L88.0,190.7 L88.5,190.7 L89.0,190.7 L89.5,190.7 L90.0,190.7 L90.5,190.7 L91.0,190.7 L91.5,190.5 L92.0,190.2 L92.5,189.9 L93.0,189.4 L93.5,189.0 L94.0,188.6 L94.5,188.0 L95.0,187.4 L95.5,186.6 L96.0,185.5 L96.5,184.1 L97.0,182.7 L97.5,181.4 L98.0,179.9 L98.5,178.3 L99.0,176.8 L99.5,175.3 L100.0,173.8 L100.5,172.4 L101.0,170.9 L101.5,169.6 L102.0,168.4 L102.5,166.8 L103.0,164.5 L103.5,161.8 L104.0,160.2 L104.5,160.4 L105.0,160.9 L105.5,161.5 L106.0,162.3 L106.5,163.3 L107.0,164.5 L107.5,166.1 L108.0,168.1 L108.5,170.2 L109.0,172.3 L109.5,174.5 L110.0,176.5 L110.5,178.3 L111.0,180.1 L111.5,181.7 L112.0,183.3 L112.5,184.9 L113.0,186.1 L113.5,187.1 L114.0,188.0 L114.5,188.7 L115.0,189.2 L115.5,189.6 L116.0,189.9 L116.5,190.2 L117.0,190.4 L117.5,190.6 L118.0,190.8 L118.5,190.9 L119.0,191.0 L119.5,191.1 L120.0,191.1 L120.5,191.2 L121.0,191.2 L121.5,191.2 L122.0,191.2 L122.5,191.2 L123.0,191.2 L123.5,191.2 L124.0,191.2 L124.5,191.2 L125.0,191.2 L125.5,191.2 L126.0,191.2 L126.5,191.2 L127.0,191.2 L127.5,191.2 L128.0,191.2 L128.5,191.2 L129.0,191.2 L129.5,191.2 L130.0,191.2 L130.5,191.2 L131.0,191.2 L131.5,191.2 L132.0,191.2 L132.5,191.2 L133.0,191.2 L133.5,191.2 L134.0,191.2" fill="none" stroke="#D07137" stroke-width="1.95" stroke-linejoin="round"/>
<path d="M74.0,191.1 L74.5,191.0 L75.0,190.9 L75.5,190.8 L76.0,190.7 L76.5,190.6 L77.0,190.5 L77.5,190.4 L78.0,190.3 L78.5,190.2 L79.0,190.1 L79.5,190.0 L80.0,189.9 L80.5,189.8 L81.0,189.8 L81.5,189.8 L82.0,189.9 L82.5,189.9 L83.0,190.0 L83.5,190.1 L84.0,190.2 L84.5,190.2 L85.0,190.3 L85.5,190.4 L86.0,190.4 L86.5,190.4 L87.0,190.4 L87.5,190.3 L88.0,190.2 L88.5,190.1 L89.0,190.0 L89.5,189.8 L90.0,189.6 L90.5,189.4 L91.0,189.0 L91.5,188.6 L92.0,188.1 L92.5,187.6 L93.0,186.9 L93.5,186.1 L94.0,185.2 L94.5,184.3 L95.0,183.3 L95.5,182.2 L96.0,181.0 L96.5,179.8 L97.0,178.4 L97.5,176.9 L98.0,175.3 L98.5,173.8 L99.0,172.3 L99.5,170.6 L100.0,168.5 L100.5,165.6 L101.0,163.6 L101.5,163.4 L102.0,163.7 L102.5,164.1 L103.0,164.6 L103.5,165.1 L104.0,165.7 L104.5,166.2 L105.0,166.6 L105.5,167.4 L106.0,169.1 L106.5,171.1 L107.0,173.4 L107.5,175.7 L108.0,177.9 L108.5,180.1 L109.0,181.9 L109.5,183.4 L110.0,184.7 L110.5,185.8 L111.0,186.9 L111.5,187.7 L112.0,188.4 L112.5,189.0 L113.0,189.5 L113.5,189.9 L114.0,190.2 L114.5,190.4 L115.0,190.6 L115.5,190.7 L116.0,190.8 L116.5,190.9 L117.0,191.0 L117.5,191.1 L118.0,191.1 L118.5,191.1 L119.0,191.2 L119.5,191.2 L120.0,191.2 L120.5,191.2 L121.0,191.2 L121.5,191.2 L122.0,191.2 L122.5,191.2 L123.0,191.2 L123.5,191.2 L124.0,191.2 L124.5,191.2 L125.0,191.2 L125.5,191.2 L126.0,191.2 L126.5,191.2 L127.0,191.2 L127.5,191.2 L128.0,191.2 L128.5,191.2 L129.0,191.2 L129.5,191.2 L130.0,191.2 L130.5,191.2 L131.0,191.2 L131.5,191.2 L132.0,191.2 L132.5,191.2 L133.0,191.2 L133.5,191.2 L134.0,191.2" fill="none" stroke="#2E7DB4" stroke-width="1.95" stroke-linejoin="round"/>
<line x1="104.00" y1="193.05" x2="104.00" y2="152.30" stroke="#6E6E6E" stroke-width="1" stroke-dasharray="3.4 3.8"/>
<rect x="142.00" y="140.00" width="66.00" height="12.3" fill="#D9D9D9"/>
<path d="M145.0,191.2 L145.5,191.1 L146.0,191.1 L146.5,191.0 L147.0,190.9 L147.5,190.8 L148.0,190.7 L148.5,190.7 L149.0,190.6 L149.5,190.5 L150.0,190.3 L150.5,190.2 L151.0,190.1 L151.5,190.0 L152.0,189.9 L152.5,189.8 L153.0,189.8 L153.5,189.7 L154.0,189.6 L154.5,189.5 L155.0,189.4 L155.5,189.2 L156.0,189.1 L156.5,188.9 L157.0,188.8 L157.5,188.6 L158.0,188.4 L158.5,188.3 L159.0,188.1 L159.5,187.9 L160.0,187.7 L160.5,187.4 L161.0,187.2 L161.5,187.0 L162.0,186.8 L162.5,186.5 L163.0,186.2 L163.5,186.0 L164.0,185.7 L164.5,185.4 L165.0,185.1 L165.5,184.8 L166.0,184.5 L166.5,184.3 L167.0,184.0 L167.5,183.6 L168.0,183.2 L168.5,182.7 L169.0,182.0 L169.5,181.2 L170.0,180.4 L170.5,179.5 L171.0,178.4 L171.5,177.2 L172.0,176.0 L172.5,174.8 L173.0,173.4 L173.5,171.5 L174.0,169.2 L174.5,166.5 L175.0,164.7 L175.5,165.1 L176.0,166.4 L176.5,168.0 L177.0,169.8 L177.5,171.8 L178.0,173.4 L178.5,174.9 L179.0,176.2 L179.5,177.5 L180.0,178.7 L180.5,179.9 L181.0,181.0 L181.5,182.0 L182.0,182.9 L182.5,183.8 L183.0,184.6 L183.5,185.4 L184.0,186.1 L184.5,186.8 L185.0,187.5 L185.5,188.0 L186.0,188.5 L186.5,188.9 L187.0,189.3 L187.5,189.6 L188.0,189.9 L188.5,190.1 L189.0,190.4 L189.5,190.5 L190.0,190.7 L190.5,190.8 L191.0,190.9 L191.5,191.0 L192.0,191.0 L192.5,191.1 L193.0,191.1 L193.5,191.1 L194.0,191.1 L194.5,191.2 L195.0,191.2 L195.5,191.2 L196.0,191.2 L196.5,191.2 L197.0,191.2 L197.5,191.2 L198.0,191.2 L198.5,191.2 L199.0,191.2 L199.5,191.2 L200.0,191.2 L200.5,191.2 L201.0,191.2 L201.5,191.2 L202.0,191.2 L202.5,191.2 L203.0,191.2 L203.5,191.2 L204.0,191.2 L204.5,191.2 L205.0,191.2" fill="none" stroke="#D07137" stroke-width="1.95" stroke-linejoin="round"/>
<path d="M145.0,190.7 L145.5,190.7 L146.0,190.6 L146.5,190.6 L147.0,190.5 L147.5,190.4 L148.0,190.4 L148.5,190.3 L149.0,190.2 L149.5,190.2 L150.0,190.1 L150.5,190.0 L151.0,189.9 L151.5,189.7 L152.0,189.5 L152.5,189.2 L153.0,189.0 L153.5,188.7 L154.0,188.4 L154.5,188.1 L155.0,187.9 L155.5,187.9 L156.0,188.1 L156.5,188.2 L157.0,188.2 L157.5,188.1 L158.0,187.9 L158.5,187.7 L159.0,187.5 L159.5,187.3 L160.0,187.0 L160.5,186.7 L161.0,186.4 L161.5,186.0 L162.0,185.7 L162.5,185.2 L163.0,184.7 L163.5,184.2 L164.0,183.7 L164.5,183.2 L165.0,182.7 L165.5,182.1 L166.0,181.4 L166.5,180.6 L167.0,179.8 L167.5,178.8 L168.0,177.7 L168.5,176.5 L169.0,175.2 L169.5,173.9 L170.0,172.7 L170.5,171.3 L171.0,170.0 L171.5,168.6 L172.0,167.3 L172.5,165.8 L173.0,164.1 L173.5,161.9 L174.0,160.7 L174.5,160.7 L175.0,161.2 L175.5,162.2 L176.0,163.7 L176.5,165.8 L177.0,168.2 L177.5,171.0 L178.0,174.0 L178.5,176.9 L179.0,180.0 L179.5,183.3 L180.0,185.1 L180.5,186.4 L181.0,187.3 L181.5,187.9 L182.0,188.5 L182.5,188.9 L183.0,189.2 L183.5,189.5 L184.0,189.8 L184.5,190.0 L185.0,190.2 L185.5,190.3 L186.0,190.5 L186.5,190.6 L187.0,190.7 L187.5,190.8 L188.0,190.8 L188.5,190.9 L189.0,190.9 L189.5,191.0 L190.0,191.0 L190.5,191.0 L191.0,191.1 L191.5,191.1 L192.0,191.1 L192.5,191.2 L193.0,191.2 L193.5,191.2 L194.0,191.2 L194.5,191.2 L195.0,191.2 L195.5,191.2 L196.0,191.2 L196.5,191.2 L197.0,191.2 L197.5,191.2 L198.0,191.2 L198.5,191.2 L199.0,191.2 L199.5,191.2 L200.0,191.2 L200.5,191.2 L201.0,191.2 L201.5,191.2 L202.0,191.2 L202.5,191.2 L203.0,191.2 L203.5,191.2 L204.0,191.2 L204.5,191.2 L205.0,191.2" fill="none" stroke="#2E7DB4" stroke-width="1.95" stroke-linejoin="round"/>
<line x1="175.00" y1="193.05" x2="175.00" y2="152.30" stroke="#6E6E6E" stroke-width="1" stroke-dasharray="3.4 3.8"/>
<rect x="213.00" y="140.00" width="66.00" height="12.3" fill="#D9D9D9"/>
<path d="M216.0,191.2 L216.5,191.2 L217.0,191.2 L217.5,191.2 L218.0,191.2 L218.5,191.2 L219.0,191.2 L219.5,191.2 L220.0,191.2 L220.5,191.2 L221.0,191.2 L221.5,191.2 L222.0,191.2 L222.5,191.2 L223.0,191.2 L223.5,191.2 L224.0,191.2 L224.5,191.2 L225.0,191.1 L225.5,191.1 L226.0,191.0 L226.5,191.0 L227.0,190.9 L227.5,190.9 L228.0,190.8 L228.5,190.6 L229.0,190.5 L229.5,190.3 L230.0,190.1 L230.5,189.9 L231.0,189.7 L231.5,189.3 L232.0,188.9 L232.5,188.5 L233.0,188.0 L233.5,187.3 L234.0,186.6 L234.5,186.0 L235.0,185.5 L235.5,185.0 L236.0,184.7 L236.5,184.5 L237.0,184.4 L237.5,184.1 L238.0,183.2 L238.5,181.7 L239.0,180.0 L239.5,177.9 L240.0,175.6 L240.5,173.5 L241.0,171.5 L241.5,169.6 L242.0,167.7 L242.5,165.8 L243.0,164.3 L243.5,163.2 L244.0,162.3 L244.5,161.6 L245.0,161.2 L245.5,161.5 L246.0,162.3 L246.5,163.2 L247.0,164.1 L247.5,165.2 L248.0,166.4 L248.5,167.8 L249.0,169.3 L249.5,170.8 L250.0,172.4 L250.5,174.1 L251.0,175.7 L251.5,177.3 L252.0,178.9 L252.5,180.4 L253.0,181.9 L253.5,183.2 L254.0,184.4 L254.5,185.4 L255.0,186.4 L255.5,187.4 L256.0,188.3 L256.5,189.0 L257.0,189.7 L257.5,190.2 L258.0,190.5 L258.5,190.7 L259.0,190.9 L259.5,191.0 L260.0,191.1 L260.5,191.1 L261.0,191.1 L261.5,191.2 L262.0,191.2 L262.5,191.2 L263.0,191.2 L263.5,191.2 L264.0,191.2 L264.5,191.2 L265.0,191.2 L265.5,191.2 L266.0,191.2 L266.5,191.2 L267.0,191.2 L267.5,191.2 L268.0,191.2 L268.5,191.2 L269.0,191.2 L269.5,191.2 L270.0,191.2 L270.5,191.2 L271.0,191.2 L271.5,191.2 L272.0,191.2 L272.5,191.2 L273.0,191.2 L273.5,191.2 L274.0,191.2 L274.5,191.2 L275.0,191.2 L275.5,191.2 L276.0,191.2" fill="none" stroke="#D07137" stroke-width="1.95" stroke-linejoin="round"/>
<path d="M216.0,191.2 L216.5,191.2 L217.0,191.2 L217.5,191.2 L218.0,191.2 L218.5,191.2 L219.0,191.2 L219.5,191.2 L220.0,191.2 L220.5,191.2 L221.0,191.2 L221.5,191.2 L222.0,191.2 L222.5,191.2 L223.0,191.2 L223.5,191.2 L224.0,191.2 L224.5,191.1 L225.0,191.1 L225.5,191.0 L226.0,190.9 L226.5,190.8 L227.0,190.7 L227.5,190.6 L228.0,190.4 L228.5,190.2 L229.0,190.0 L229.5,189.8 L230.0,189.5 L230.5,189.2 L231.0,188.9 L231.5,188.5 L232.0,188.1 L232.5,187.6 L233.0,187.3 L233.5,186.9 L234.0,186.5 L234.5,186.2 L235.0,185.9 L235.5,185.7 L236.0,185.5 L236.5,185.2 L237.0,184.5 L237.5,182.9 L238.0,180.9 L238.5,179.2 L239.0,177.4 L239.5,175.7 L240.0,174.2 L240.5,172.8 L241.0,171.3 L241.5,169.6 L242.0,168.0 L242.5,167.0 L243.0,167.2 L243.5,167.6 L244.0,168.2 L244.5,168.8 L245.0,169.4 L245.5,170.1 L246.0,170.7 L246.5,171.4 L247.0,172.1 L247.5,172.8 L248.0,173.3 L248.5,173.7 L249.0,174.1 L249.5,174.5 L250.0,174.8 L250.5,175.2 L251.0,175.6 L251.5,175.9 L252.0,176.1 L252.5,176.4 L253.0,177.0 L253.5,178.0 L254.0,179.2 L254.5,180.6 L255.0,182.1 L255.5,183.4 L256.0,184.6 L256.5,185.6 L257.0,186.6 L257.5,187.6 L258.0,188.5 L258.5,189.1 L259.0,189.6 L259.5,190.1 L260.0,190.4 L260.5,190.6 L261.0,190.9 L261.5,191.0 L262.0,191.1 L262.5,191.1 L263.0,191.2 L263.5,191.2 L264.0,191.2 L264.5,191.2 L265.0,191.2 L265.5,191.2 L266.0,191.2 L266.5,191.2 L267.0,191.2 L267.5,191.2 L268.0,191.2 L268.5,191.2 L269.0,191.2 L269.5,191.2 L270.0,191.2 L270.5,191.2 L271.0,191.2 L271.5,191.2 L272.0,191.2 L272.5,191.2 L273.0,191.2 L273.5,191.2 L274.0,191.2 L274.5,191.2 L275.0,191.2 L275.5,191.2 L276.0,191.2" fill="none" stroke="#2E7DB4" stroke-width="1.95" stroke-linejoin="round"/>
<line x1="246.00" y1="193.05" x2="246.00" y2="152.30" stroke="#6E6E6E" stroke-width="1" stroke-dasharray="3.4 3.8"/>
<rect x="284.00" y="140.00" width="66.00" height="12.3" fill="#D9D9D9"/>
<path d="M287.0,188.9 L287.5,189.1 L288.0,189.2 L288.5,189.4 L289.0,189.6 L289.5,189.7 L290.0,189.9 L290.5,190.0 L291.0,190.2 L291.5,190.3 L292.0,190.4 L292.5,190.5 L293.0,190.5 L293.5,190.6 L294.0,190.6 L294.5,190.7 L295.0,190.7 L295.5,190.7 L296.0,190.7 L296.5,190.7 L297.0,190.7 L297.5,190.7 L298.0,190.7 L298.5,190.7 L299.0,190.7 L299.5,190.7 L300.0,190.5 L300.5,190.3 L301.0,189.9 L301.5,189.5 L302.0,189.0 L302.5,188.4 L303.0,187.7 L303.5,187.1 L304.0,186.6 L304.5,186.2 L305.0,185.8 L305.5,185.4 L306.0,185.1 L306.5,184.8 L307.0,184.5 L307.5,184.1 L308.0,183.6 L308.5,182.9 L309.0,182.1 L309.5,181.4 L310.0,180.6 L310.5,179.8 L311.0,178.9 L311.5,177.9 L312.0,176.9 L312.5,175.9 L313.0,174.9 L313.5,174.0 L314.0,172.8 L314.5,171.0 L315.0,168.7 L315.5,165.4 L316.0,161.8 L316.5,159.3 L317.0,159.0 L317.5,161.6 L318.0,164.4 L318.5,167.5 L319.0,170.4 L319.5,173.2 L320.0,175.7 L320.5,177.9 L321.0,179.9 L321.5,181.4 L322.0,182.7 L322.5,183.9 L323.0,184.9 L323.5,185.9 L324.0,186.7 L324.5,187.5 L325.0,188.1 L325.5,188.7 L326.0,189.1 L326.5,189.5 L327.0,189.8 L327.5,190.1 L328.0,190.3 L328.5,190.5 L329.0,190.7 L329.5,190.8 L330.0,190.9 L330.5,191.0 L331.0,191.1 L331.5,191.2 L332.0,191.2 L332.5,191.2 L333.0,191.2 L333.5,191.2 L334.0,191.2 L334.5,191.2 L335.0,191.2 L335.5,191.2 L336.0,191.2 L336.5,191.2 L337.0,191.2 L337.5,191.2 L338.0,191.2 L338.5,191.2 L339.0,191.2 L339.5,191.2 L340.0,191.2 L340.5,191.2 L341.0,191.2 L341.5,191.2 L342.0,191.2 L342.5,191.2 L343.0,191.2 L343.5,191.2 L344.0,191.2 L344.5,191.2 L345.0,191.2 L345.5,191.2 L346.0,191.2 L346.5,191.2 L347.0,191.2" fill="none" stroke="#D07137" stroke-width="1.95" stroke-linejoin="round"/>
<path d="M287.0,185.9 L287.5,186.2 L288.0,186.5 L288.5,186.9 L289.0,187.2 L289.5,187.5 L290.0,187.9 L290.5,188.3 L291.0,188.7 L291.5,189.0 L292.0,189.2 L292.5,189.4 L293.0,189.7 L293.5,189.8 L294.0,190.0 L294.5,190.2 L295.0,190.3 L295.5,190.4 L296.0,190.4 L296.5,190.3 L297.0,190.2 L297.5,190.1 L298.0,190.0 L298.5,189.8 L299.0,189.6 L299.5,189.4 L300.0,189.2 L300.5,188.9 L301.0,188.5 L301.5,188.2 L302.0,187.7 L302.5,187.1 L303.0,186.3 L303.5,185.5 L304.0,184.7 L304.5,183.9 L305.0,183.1 L305.5,182.2 L306.0,181.3 L306.5,180.5 L307.0,179.6 L307.5,178.7 L308.0,177.8 L308.5,176.9 L309.0,176.1 L309.5,175.3 L310.0,174.6 L310.5,173.9 L311.0,173.2 L311.5,172.5 L312.0,171.8 L312.5,171.0 L313.0,170.5 L313.5,170.4 L314.0,170.5 L314.5,170.7 L315.0,170.9 L315.5,171.1 L316.0,171.6 L316.5,172.1 L317.0,172.8 L317.5,173.7 L318.0,174.9 L318.5,176.1 L319.0,177.4 L319.5,178.7 L320.0,179.9 L320.5,180.9 L321.0,182.0 L321.5,183.0 L322.0,184.0 L322.5,185.0 L323.0,186.0 L323.5,186.8 L324.0,187.3 L324.5,187.8 L325.0,188.3 L325.5,188.6 L326.0,189.0 L326.5,189.3 L327.0,189.5 L327.5,189.7 L328.0,190.0 L328.5,190.1 L329.0,190.3 L329.5,190.5 L330.0,190.6 L330.5,190.7 L331.0,190.8 L331.5,190.9 L332.0,191.0 L332.5,191.1 L333.0,191.1 L333.5,191.1 L334.0,191.2 L334.5,191.2 L335.0,191.2 L335.5,191.2 L336.0,191.2 L336.5,191.2 L337.0,191.2 L337.5,191.2 L338.0,191.2 L338.5,191.2 L339.0,191.2 L339.5,191.2 L340.0,191.2 L340.5,191.2 L341.0,191.2 L341.5,191.2 L342.0,191.2 L342.5,191.2 L343.0,191.2 L343.5,191.2 L344.0,191.2 L344.5,191.2 L345.0,191.2 L345.5,191.2 L346.0,191.2 L346.5,191.2 L347.0,191.2" fill="none" stroke="#2E7DB4" stroke-width="1.95" stroke-linejoin="round"/>
<line x1="317.00" y1="193.05" x2="317.00" y2="152.30" stroke="#6E6E6E" stroke-width="1" stroke-dasharray="3.4 3.8"/>
<line x1="3.00" y1="193.35" x2="3.00" y2="195.15" stroke="#333" stroke-width="0.8"/>
<line x1="23.00" y1="193.35" x2="23.00" y2="195.15" stroke="#333" stroke-width="0.8"/>
<line x1="43.00" y1="193.35" x2="43.00" y2="195.15" stroke="#333" stroke-width="0.8"/>
<line x1="63.00" y1="193.35" x2="63.00" y2="195.15" stroke="#333" stroke-width="0.8"/>
<line x1="74.00" y1="193.35" x2="74.00" y2="195.15" stroke="#333" stroke-width="0.8"/>
<line x1="94.00" y1="193.35" x2="94.00" y2="195.15" stroke="#333" stroke-width="0.8"/>
<line x1="114.00" y1="193.35" x2="114.00" y2="195.15" stroke="#333" stroke-width="0.8"/>
<line x1="134.00" y1="193.35" x2="134.00" y2="195.15" stroke="#333" stroke-width="0.8"/>
<line x1="145.00" y1="193.35" x2="145.00" y2="195.15" stroke="#333" stroke-width="0.8"/>
<line x1="165.00" y1="193.35" x2="165.00" y2="195.15" stroke="#333" stroke-width="0.8"/>
<line x1="185.00" y1="193.35" x2="185.00" y2="195.15" stroke="#333" stroke-width="0.8"/>
<line x1="205.00" y1="193.35" x2="205.00" y2="195.15" stroke="#333" stroke-width="0.8"/>
<line x1="216.00" y1="193.35" x2="216.00" y2="195.15" stroke="#333" stroke-width="0.8"/>
<line x1="236.00" y1="193.35" x2="236.00" y2="195.15" stroke="#333" stroke-width="0.8"/>
<line x1="256.00" y1="193.35" x2="256.00" y2="195.15" stroke="#333" stroke-width="0.8"/>
<line x1="276.00" y1="193.35" x2="276.00" y2="195.15" stroke="#333" stroke-width="0.8"/>
<line x1="287.00" y1="193.35" x2="287.00" y2="195.15" stroke="#333" stroke-width="0.8"/>
<line x1="307.00" y1="193.35" x2="307.00" y2="195.15" stroke="#333" stroke-width="0.8"/>
<line x1="327.00" y1="193.35" x2="327.00" y2="195.15" stroke="#333" stroke-width="0.8"/>
<line x1="347.00" y1="193.35" x2="347.00" y2="195.15" stroke="#333" stroke-width="0.8"/>
<rect x="0.00" y="235.70" width="113.33" height="12.3" fill="#D9D9D9"/>
<path d="M5.2,279.9 L5.7,280.0 L6.2,280.0 L6.7,280.1 L7.2,280.2 L7.7,280.2 L8.2,280.3 L8.7,280.3 L9.2,280.4 L9.7,280.5 L10.2,280.5 L10.7,280.6 L11.2,280.6 L11.7,280.6 L12.2,280.6 L12.7,280.6 L13.2,280.6 L13.7,280.6 L14.2,280.6 L14.7,280.6 L15.2,280.6 L15.7,280.5 L16.1,280.4 L16.6,280.4 L17.1,280.3 L17.6,280.2 L18.1,280.1 L18.6,280.1 L19.1,280.0 L19.6,279.9 L20.1,279.8 L20.6,279.7 L21.1,279.6 L21.6,279.5 L22.1,279.4 L22.6,279.3 L23.1,279.1 L23.6,279.0 L24.1,278.9 L24.6,278.8 L25.1,278.7 L25.6,278.6 L26.1,278.5 L26.6,278.4 L27.1,278.3 L27.6,278.2 L28.1,278.1 L28.6,278.0 L29.1,277.9 L29.6,277.8 L30.1,277.7 L30.6,277.7 L31.1,277.6 L31.6,277.5 L32.1,277.4 L32.6,277.3 L33.1,277.2 L33.6,277.0 L34.1,276.9 L34.6,276.8 L35.1,276.7 L35.6,276.6 L36.1,276.5 L36.6,276.4 L37.1,276.3 L37.6,276.2 L38.1,276.1 L38.6,276.0 L39.1,275.9 L39.6,275.8 L40.1,275.7 L40.6,275.6 L41.1,275.5 L41.6,275.4 L42.1,275.4 L42.6,275.3 L43.1,275.2 L43.6,275.2 L44.1,275.1 L44.6,275.0 L45.1,274.9 L45.6,274.8 L46.1,274.6 L46.6,274.5 L47.1,274.4 L47.6,274.2 L48.1,274.1 L48.6,273.9 L49.1,273.7 L49.6,273.5 L50.1,273.3 L50.6,273.1 L51.1,273.0 L51.6,272.8 L52.1,272.7 L52.6,272.6 L53.1,272.5 L53.6,272.4 L54.1,272.3 L54.6,272.3 L55.1,272.3 L55.6,272.5 L56.1,272.8 L56.6,273.1 L57.1,273.5 L57.6,273.9 L58.1,274.3 L58.6,274.9 L59.1,275.4 L59.6,276.0 L60.1,276.6 L60.6,277.2 L61.1,277.9 L61.6,278.5 L62.1,279.2 L62.6,279.8 L63.1,280.3 L63.6,280.8 L64.2,281.3 L64.7,281.8 L65.2,282.2 L65.7,282.6 L66.2,283.0 L66.7,283.3 L67.2,283.7 L67.7,284.0 L68.2,284.3 L68.7,284.5 L69.2,284.8 L69.7,285.0 L70.2,285.1 L70.7,285.3 L71.2,285.4 L71.7,285.5 L72.2,285.6 L72.7,285.7 L73.2,285.7 L73.7,285.8 L74.2,285.8 L74.7,285.8 L75.2,285.8 L75.7,285.9 L76.2,285.9 L76.7,285.9 L77.2,285.9 L77.7,285.9 L78.2,285.9 L78.7,286.0 L79.2,286.0 L79.7,286.0 L80.2,286.0 L80.7,286.0 L81.2,286.1 L81.7,286.1 L82.2,286.1 L82.7,286.1 L83.2,286.1 L83.7,286.1 L84.2,286.1 L84.7,286.2 L85.2,286.2 L85.7,286.2 L86.2,286.2 L86.7,286.2 L87.2,286.2 L87.7,286.2 L88.2,286.3 L88.7,286.3 L89.2,286.3 L89.7,286.3 L90.2,286.3 L90.7,286.3 L91.2,286.3 L91.7,286.3 L92.2,286.3 L92.7,286.4 L93.2,286.4 L93.7,286.4 L94.2,286.4 L94.7,286.4 L95.2,286.4 L95.7,286.4 L96.2,286.4 L96.7,286.4 L97.2,286.5 L97.7,286.5 L98.2,286.5 L98.7,286.5 L99.2,286.5 L99.7,286.5 L100.2,286.5 L100.7,286.5 L101.2,286.5 L101.7,286.5 L102.2,286.5 L102.7,286.5 L103.2,286.5 L103.7,286.6 L104.2,286.6 L104.7,286.6 L105.2,286.6 L105.7,286.6 L106.2,286.6 L106.7,286.6 L107.2,286.6 L107.7,286.6 L108.2,286.6 L108.2,286.6" fill="none" stroke="#D07137" stroke-width="1.95" stroke-linejoin="round"/>
<path d="M5.2,275.7 L5.7,275.7 L6.2,275.8 L6.7,275.8 L7.2,275.9 L7.7,276.0 L8.2,276.0 L8.7,276.1 L9.2,276.2 L9.7,276.3 L10.2,276.5 L10.7,276.6 L11.2,276.7 L11.7,276.9 L12.2,277.0 L12.7,277.1 L13.2,277.2 L13.7,277.4 L14.2,277.5 L14.7,277.6 L15.2,277.7 L15.7,277.8 L16.1,277.9 L16.6,277.9 L17.1,278.0 L17.6,278.1 L18.1,278.1 L18.6,278.2 L19.1,278.2 L19.6,278.3 L20.1,278.3 L20.6,278.3 L21.1,278.4 L21.6,278.4 L22.1,278.4 L22.6,278.4 L23.1,278.4 L23.6,278.4 L24.1,278.4 L24.6,278.4 L25.1,278.3 L25.6,278.3 L26.1,278.3 L26.6,278.2 L27.1,278.2 L27.6,278.1 L28.1,278.1 L28.6,278.0 L29.1,277.9 L29.6,277.9 L30.1,277.8 L30.6,277.7 L31.1,277.6 L31.6,277.6 L32.1,277.5 L32.6,277.4 L33.1,277.4 L33.6,277.3 L34.1,277.2 L34.6,277.2 L35.1,277.1 L35.6,277.0 L36.1,277.0 L36.6,276.9 L37.1,276.8 L37.6,276.7 L38.1,276.6 L38.6,276.5 L39.1,276.4 L39.6,276.3 L40.1,276.3 L40.6,276.2 L41.1,276.2 L41.6,276.1 L42.1,276.0 L42.6,276.0 L43.1,276.0 L43.6,275.9 L44.1,275.9 L44.6,275.9 L45.1,275.9 L45.6,275.9 L46.1,276.0 L46.6,276.0 L47.1,276.0 L47.6,276.1 L48.1,276.1 L48.6,276.2 L49.1,276.2 L49.6,276.3 L50.1,276.4 L50.6,276.5 L51.1,276.6 L51.6,276.6 L52.1,276.7 L52.6,276.8 L53.1,276.9 L53.6,277.0 L54.1,277.1 L54.6,277.2 L55.1,277.3 L55.6,277.4 L56.1,277.6 L56.6,277.7 L57.1,277.9 L57.6,278.1 L58.1,278.4 L58.6,278.7 L59.1,278.9 L59.6,279.2 L60.1,279.5 L60.6,279.9 L61.1,280.2 L61.6,280.6 L62.1,280.9 L62.6,281.2 L63.1,281.6 L63.6,281.9 L64.2,282.2 L64.7,282.5 L65.2,282.8 L65.7,283.2 L66.2,283.4 L66.7,283.7 L67.2,284.0 L67.7,284.2 L68.2,284.4 L68.7,284.7 L69.2,284.8 L69.7,285.0 L70.2,285.1 L70.7,285.2 L71.2,285.3 L71.7,285.4 L72.2,285.5 L72.7,285.5 L73.2,285.5 L73.7,285.6 L74.2,285.6 L74.7,285.6 L75.2,285.7 L75.7,285.7 L76.2,285.7 L76.7,285.7 L77.2,285.7 L77.7,285.8 L78.2,285.8 L78.7,285.8 L79.2,285.8 L79.7,285.8 L80.2,285.8 L80.7,285.9 L81.2,285.9 L81.7,285.9 L82.2,285.9 L82.7,285.9 L83.2,285.9 L83.7,285.9 L84.2,285.9 L84.7,285.9 L85.2,286.0 L85.7,286.0 L86.2,286.0 L86.7,286.0 L87.2,286.0 L87.7,286.0 L88.2,286.0 L88.7,286.0 L89.2,286.0 L89.7,286.0 L90.2,286.0 L90.7,286.0 L91.2,286.0 L91.7,286.0 L92.2,286.0 L92.7,286.0 L93.2,286.1 L93.7,286.1 L94.2,286.1 L94.7,286.1 L95.2,286.1 L95.7,286.1 L96.2,286.1 L96.7,286.1 L97.2,286.1 L97.7,286.1 L98.2,286.1 L98.7,286.1 L99.2,286.1 L99.7,286.1 L100.2,286.1 L100.7,286.1 L101.2,286.1 L101.7,286.1 L102.2,286.1 L102.7,286.1 L103.2,286.2 L103.7,286.2 L104.2,286.2 L104.7,286.2 L105.2,286.2 L105.7,286.2 L106.2,286.2 L106.7,286.2 L107.2,286.2 L107.7,286.2 L108.2,286.2 L108.2,286.2" fill="none" stroke="#2E7DB4" stroke-width="1.95" stroke-linejoin="round"/>
<line x1="56.67" y1="288.75" x2="56.67" y2="248.00" stroke="#6E6E6E" stroke-width="1" stroke-dasharray="3.4 3.8"/>
<rect x="118.33" y="235.70" width="113.33" height="12.3" fill="#D9D9D9"/>
<path d="M123.5,267.0 L124.0,267.2 L124.5,267.5 L125.0,267.8 L125.5,268.1 L126.0,268.4 L126.5,268.8 L127.0,269.2 L127.5,269.6 L128.0,270.1 L128.5,270.7 L129.0,271.3 L129.5,271.9 L130.0,272.5 L130.5,273.1 L131.0,273.7 L131.5,274.4 L132.0,275.1 L132.5,275.6 L133.0,276.1 L133.5,276.4 L134.0,276.6 L134.5,276.8 L135.0,277.0 L135.5,277.1 L136.0,277.2 L136.5,277.3 L137.0,277.3 L137.5,277.2 L138.0,277.1 L138.5,276.9 L139.0,276.7 L139.5,276.5 L140.0,276.3 L140.5,276.0 L141.0,275.7 L141.5,275.4 L142.0,275.0 L142.5,274.7 L143.0,274.4 L143.5,274.2 L144.0,274.2 L144.5,274.3 L145.0,274.4 L145.5,274.6 L146.0,274.8 L146.5,274.9 L147.0,275.1 L147.5,275.3 L148.0,275.6 L148.5,275.8 L149.0,276.0 L149.5,276.1 L150.0,276.3 L150.5,276.5 L151.0,276.6 L151.5,276.8 L152.0,277.0 L152.5,277.1 L153.0,277.3 L153.5,277.4 L154.0,277.6 L154.5,277.8 L155.0,278.0 L155.5,278.1 L156.0,278.3 L156.5,278.4 L157.0,278.6 L157.5,278.7 L158.0,278.8 L158.5,278.9 L159.0,279.0 L159.5,279.1 L160.0,279.2 L160.5,279.3 L161.0,279.4 L161.5,279.5 L162.0,279.5 L162.5,279.6 L163.0,279.7 L163.5,279.8 L164.0,279.8 L164.5,279.9 L165.0,280.0 L165.5,280.0 L166.0,280.1 L166.5,280.2 L167.0,280.2 L167.5,280.3 L168.0,280.5 L168.5,280.6 L169.0,280.8 L169.5,281.1 L170.0,281.3 L170.5,281.6 L171.0,281.9 L171.5,282.1 L172.0,282.4 L172.5,282.6 L173.0,282.9 L173.5,283.1 L174.0,283.3 L174.5,283.6 L175.0,283.8 L175.5,284.0 L176.0,284.1 L176.5,284.3 L177.0,284.5 L177.5,284.6 L178.0,284.8 L178.5,284.9 L179.0,285.0 L179.5,285.2 L180.0,285.3 L180.5,285.5 L181.0,285.6 L181.5,285.7 L182.0,285.8 L182.5,285.9 L183.0,286.0 L183.5,286.1 L184.0,286.2 L184.5,286.3 L185.0,286.3 L185.5,286.4 L186.0,286.4 L186.5,286.4 L187.0,286.5 L187.5,286.5 L188.0,286.5 L188.5,286.5 L189.0,286.5 L189.5,286.5 L190.0,286.5 L190.5,286.6 L191.0,286.6 L191.5,286.6 L192.0,286.6 L192.5,286.6 L193.0,286.6 L193.5,286.6 L194.0,286.6 L194.5,286.6 L195.0,286.6 L195.5,286.6 L196.0,286.6 L196.5,286.6 L197.0,286.6 L197.5,286.6 L198.0,286.6 L198.5,286.7 L199.0,286.7 L199.5,286.7 L200.0,286.7 L200.5,286.7 L201.0,286.7 L201.5,286.7 L202.0,286.7 L202.5,286.7 L203.0,286.7 L203.5,286.7 L204.0,286.7 L204.5,286.7 L205.0,286.7 L205.5,286.7 L206.0,286.7 L206.5,286.7 L207.0,286.7 L207.5,286.7 L208.0,286.7 L208.5,286.7 L209.0,286.7 L209.5,286.7 L210.0,286.7 L210.5,286.7 L211.0,286.7 L211.5,286.7 L212.0,286.7 L212.5,286.7 L213.0,286.7 L213.5,286.7 L214.0,286.7 L214.5,286.7 L215.0,286.7 L215.5,286.7 L216.0,286.7 L216.5,286.7 L217.0,286.7 L217.5,286.7 L218.0,286.7 L218.5,286.7 L219.0,286.7 L219.5,286.7 L220.0,286.7 L220.5,286.7 L221.0,286.7 L221.5,286.7 L222.0,286.7 L222.5,286.7 L223.0,286.7 L223.5,286.7 L224.0,286.7 L224.5,286.7 L225.0,286.7 L225.5,286.7 L226.0,286.7 L226.5,286.7 L226.5,286.7" fill="none" stroke="#D07137" stroke-width="1.95" stroke-linejoin="round"/>
<path d="M123.5,262.7 L124.0,263.0 L124.5,263.4 L125.0,263.8 L125.5,264.2 L126.0,264.7 L126.5,265.1 L127.0,265.6 L127.5,266.2 L128.0,266.8 L128.5,267.6 L129.0,268.3 L129.5,269.1 L130.0,269.8 L130.5,270.5 L131.0,271.3 L131.5,271.9 L132.0,272.3 L132.5,272.7 L133.0,273.0 L133.5,273.3 L134.0,273.5 L134.5,273.7 L135.0,273.9 L135.5,274.0 L136.0,274.1 L136.5,274.2 L137.0,274.2 L137.5,274.2 L138.0,274.2 L138.5,274.1 L139.0,274.1 L139.5,274.0 L140.0,273.9 L140.5,273.9 L141.0,273.8 L141.5,273.7 L142.0,273.6 L142.5,273.5 L143.0,273.4 L143.5,273.3 L144.0,273.3 L144.5,273.4 L145.0,273.7 L145.5,273.9 L146.0,274.2 L146.5,274.5 L147.0,274.8 L147.5,275.1 L148.0,275.4 L148.5,275.7 L149.0,276.0 L149.5,276.2 L150.0,276.5 L150.5,276.7 L151.0,276.9 L151.5,277.2 L152.0,277.4 L152.5,277.6 L153.0,277.8 L153.5,278.1 L154.0,278.3 L154.5,278.6 L155.0,278.8 L155.5,279.0 L156.0,279.3 L156.5,279.5 L157.0,279.7 L157.5,279.9 L158.0,280.1 L158.5,280.3 L159.0,280.5 L159.5,280.6 L160.0,280.8 L160.5,280.9 L161.0,281.1 L161.5,281.2 L162.0,281.4 L162.5,281.5 L163.0,281.6 L163.5,281.7 L164.0,281.9 L164.5,282.0 L165.0,282.1 L165.5,282.2 L166.0,282.4 L166.5,282.5 L167.0,282.7 L167.5,282.9 L168.0,283.1 L168.5,283.3 L169.0,283.5 L169.5,283.6 L170.0,283.7 L170.5,283.8 L171.0,283.9 L171.5,284.0 L172.0,284.1 L172.5,284.2 L173.0,284.3 L173.5,284.4 L174.0,284.5 L174.5,284.6 L175.0,284.7 L175.5,284.8 L176.0,284.9 L176.5,285.0 L177.0,285.2 L177.5,285.3 L178.0,285.5 L178.5,285.6 L179.0,285.7 L179.5,285.8 L180.0,285.9 L180.5,286.0 L181.0,286.1 L181.5,286.2 L182.0,286.3 L182.5,286.3 L183.0,286.3 L183.5,286.4 L184.0,286.4 L184.5,286.4 L185.0,286.5 L185.5,286.5 L186.0,286.5 L186.5,286.5 L187.0,286.5 L187.5,286.5 L188.0,286.5 L188.5,286.5 L189.0,286.5 L189.5,286.5 L190.0,286.6 L190.5,286.6 L191.0,286.6 L191.5,286.6 L192.0,286.6 L192.5,286.6 L193.0,286.6 L193.5,286.6 L194.0,286.6 L194.5,286.6 L195.0,286.6 L195.5,286.6 L196.0,286.6 L196.5,286.6 L197.0,286.6 L197.5,286.6 L198.0,286.6 L198.5,286.6 L199.0,286.6 L199.5,286.6 L200.0,286.6 L200.5,286.6 L201.0,286.6 L201.5,286.6 L202.0,286.6 L202.5,286.6 L203.0,286.6 L203.5,286.6 L204.0,286.6 L204.5,286.6 L205.0,286.6 L205.5,286.6 L206.0,286.6 L206.5,286.6 L207.0,286.6 L207.5,286.6 L208.0,286.6 L208.5,286.6 L209.0,286.6 L209.5,286.6 L210.0,286.6 L210.5,286.6 L211.0,286.6 L211.5,286.6 L212.0,286.6 L212.5,286.6 L213.0,286.6 L213.5,286.6 L214.0,286.6 L214.5,286.6 L215.0,286.6 L215.5,286.6 L216.0,286.6 L216.5,286.6 L217.0,286.6 L217.5,286.6 L218.0,286.6 L218.5,286.6 L219.0,286.6 L219.5,286.6 L220.0,286.6 L220.5,286.6 L221.0,286.6 L221.5,286.6 L222.0,286.6 L222.5,286.6 L223.0,286.6 L223.5,286.6 L224.0,286.6 L224.5,286.6 L225.0,286.6 L225.5,286.6 L226.0,286.6 L226.5,286.6 L226.5,286.6" fill="none" stroke="#2E7DB4" stroke-width="1.95" stroke-linejoin="round"/>
<line x1="175.00" y1="288.75" x2="175.00" y2="248.00" stroke="#6E6E6E" stroke-width="1" stroke-dasharray="3.4 3.8"/>
<rect x="236.67" y="235.70" width="113.33" height="12.3" fill="#D9D9D9"/>
<path d="M241.8,283.4 L242.3,283.7 L242.8,283.9 L243.3,284.2 L243.8,284.4 L244.3,284.6 L244.8,284.7 L245.3,284.9 L245.8,285.1 L246.3,285.1 L246.8,285.1 L247.3,285.0 L247.8,284.8 L248.3,284.7 L248.8,284.6 L249.3,284.4 L249.8,284.2 L250.3,284.0 L250.8,283.7 L251.3,283.4 L251.8,283.1 L252.3,282.8 L252.8,282.6 L253.3,282.6 L253.8,282.7 L254.3,282.8 L254.8,282.9 L255.3,283.0 L255.8,283.2 L256.3,283.4 L256.8,283.4 L257.3,283.0 L257.8,282.4 L258.3,281.6 L258.8,280.9 L259.3,280.2 L259.8,279.3 L260.3,278.4 L260.8,277.5 L261.3,276.8 L261.8,276.6 L262.3,276.8 L262.8,277.2 L263.3,277.6 L263.8,277.9 L264.3,278.3 L264.8,278.7 L265.3,279.3 L265.8,280.1 L266.3,281.1 L266.8,282.0 L267.3,282.8 L267.8,283.5 L268.3,284.1 L268.8,284.5 L269.3,284.8 L269.8,285.1 L270.3,285.3 L270.8,285.5 L271.3,285.6 L271.8,285.7 L272.3,285.7 L272.8,285.6 L273.3,285.4 L273.8,285.2 L274.3,285.0 L274.8,284.8 L275.3,284.5 L275.8,284.1 L276.3,283.6 L276.8,283.1 L277.3,282.3 L277.8,281.0 L278.3,279.0 L278.8,276.6 L279.3,272.9 L279.8,269.9 L280.3,267.6 L280.8,265.8 L281.3,264.5 L281.8,263.3 L282.3,262.9 L282.8,263.3 L283.3,264.0 L283.8,264.8 L284.3,265.8 L284.8,267.0 L285.3,268.3 L285.8,269.6 L286.3,270.7 L286.8,271.7 L287.3,272.3 L287.8,271.9 L288.3,270.5 L288.8,268.9 L289.3,266.7 L289.8,264.4 L290.3,262.1 L290.8,259.9 L291.3,258.3 L291.8,257.0 L292.3,256.1 L292.8,256.1 L293.3,256.6 L293.8,257.3 L294.3,258.6 L294.8,260.5 L295.3,262.7 L295.8,265.4 L296.3,268.2 L296.8,270.6 L297.3,272.8 L297.8,274.4 L298.3,275.4 L298.8,276.2 L299.3,276.8 L299.8,277.2 L300.3,277.4 L300.8,277.2 L301.3,276.9 L301.8,276.5 L302.3,276.1 L302.8,275.5 L303.3,275.0 L303.8,274.9 L304.3,275.3 L304.8,276.1 L305.3,276.8 L305.8,277.6 L306.3,278.5 L306.8,279.4 L307.3,280.3 L307.8,281.2 L308.3,282.2 L308.8,283.0 L309.3,283.7 L309.8,284.4 L310.3,284.9 L310.8,285.2 L311.3,285.5 L311.8,285.7 L312.3,285.8 L312.8,285.9 L313.3,286.0 L313.8,286.1 L314.3,286.2 L314.8,286.2 L315.3,286.3 L315.8,286.3 L316.3,286.3 L316.8,286.3 L317.3,286.3 L317.8,286.3 L318.3,286.3 L318.8,286.4 L319.3,286.4 L319.8,286.4 L320.3,286.4 L320.8,286.4 L321.3,286.4 L321.8,286.4 L322.3,286.4 L322.8,286.4 L323.3,286.4 L323.8,286.4 L324.3,286.4 L324.8,286.4 L325.3,286.4 L325.8,286.4 L326.3,286.4 L326.8,286.4 L327.3,286.4 L327.8,286.4 L328.3,286.4 L328.8,286.4 L329.3,286.4 L329.8,286.4 L330.3,286.4 L330.8,286.4 L331.3,286.4 L331.8,286.4 L332.3,286.4 L332.8,286.4 L333.3,286.4 L333.8,286.4 L334.3,286.4 L334.8,286.4 L335.3,286.4 L335.8,286.4 L336.3,286.4 L336.8,286.4 L337.3,286.4 L337.8,286.4 L338.3,286.4 L338.8,286.4 L339.3,286.4 L339.8,286.4 L340.3,286.4 L340.8,286.4 L341.3,286.4 L341.8,286.4 L342.3,286.4 L342.8,286.4 L343.3,286.4 L343.8,286.4 L344.3,286.4 L344.8,286.4 L344.8,286.4" fill="none" stroke="#D07137" stroke-width="1.95" stroke-linejoin="round"/>
<path d="M241.8,282.9 L242.3,282.8 L242.8,282.7 L243.3,282.7 L243.8,282.6 L244.3,282.5 L244.8,282.5 L245.3,282.4 L245.8,282.3 L246.3,282.2 L246.8,282.2 L247.3,282.1 L247.8,282.0 L248.3,282.0 L248.8,281.9 L249.3,281.8 L249.8,281.8 L250.3,281.7 L250.8,281.7 L251.3,281.6 L251.8,281.5 L252.3,281.5 L252.8,281.4 L253.3,281.4 L253.8,281.3 L254.3,281.3 L254.8,281.3 L255.3,281.2 L255.8,281.2 L256.3,281.1 L256.8,281.1 L257.3,281.1 L257.8,281.0 L258.3,281.0 L258.8,280.9 L259.3,280.9 L259.8,280.9 L260.3,280.8 L260.8,280.8 L261.3,280.7 L261.8,280.7 L262.3,280.6 L262.8,280.6 L263.3,280.5 L263.8,280.5 L264.3,280.4 L264.8,280.3 L265.3,280.3 L265.8,280.2 L266.3,280.1 L266.8,280.0 L267.3,280.0 L267.8,279.9 L268.3,279.8 L268.8,279.7 L269.3,279.6 L269.8,279.6 L270.3,279.5 L270.8,279.4 L271.3,279.3 L271.8,279.1 L272.3,279.0 L272.8,278.8 L273.3,278.7 L273.8,278.5 L274.3,278.2 L274.8,278.0 L275.3,277.8 L275.8,277.5 L276.3,277.3 L276.8,277.0 L277.3,276.7 L277.8,276.4 L278.3,276.1 L278.8,275.7 L279.3,275.4 L279.8,275.1 L280.3,274.7 L280.8,274.3 L281.3,274.0 L281.8,273.7 L282.3,273.3 L282.8,273.0 L283.3,272.7 L283.8,272.4 L284.3,272.1 L284.8,271.9 L285.3,271.7 L285.8,271.5 L286.3,271.3 L286.8,271.1 L287.3,271.0 L287.8,270.8 L288.3,270.7 L288.8,270.6 L289.3,270.6 L289.8,270.6 L290.3,270.7 L290.8,270.7 L291.3,270.8 L291.8,270.8 L292.3,270.9 L292.8,271.0 L293.3,271.1 L293.8,271.3 L294.3,271.5 L294.8,271.9 L295.3,272.4 L295.8,273.1 L296.3,273.7 L296.8,274.3 L297.3,275.0 L297.8,275.7 L298.3,276.3 L298.8,276.9 L299.3,277.3 L299.8,277.8 L300.3,278.2 L300.8,278.6 L301.3,279.0 L301.8,279.4 L302.3,279.8 L302.8,280.2 L303.3,280.6 L303.8,281.0 L304.3,281.4 L304.8,281.8 L305.3,282.1 L305.8,282.5 L306.3,282.8 L306.8,283.2 L307.3,283.5 L307.8,283.8 L308.3,284.1 L308.8,284.3 L309.3,284.5 L309.8,284.7 L310.3,284.8 L310.8,285.0 L311.3,285.1 L311.8,285.2 L312.3,285.3 L312.8,285.4 L313.3,285.5 L313.8,285.5 L314.3,285.6 L314.8,285.6 L315.3,285.7 L315.8,285.7 L316.3,285.7 L316.8,285.7 L317.3,285.8 L317.8,285.8 L318.3,285.8 L318.8,285.8 L319.3,285.8 L319.8,285.8 L320.3,285.8 L320.8,285.8 L321.3,285.8 L321.8,285.8 L322.3,285.9 L322.8,285.9 L323.3,285.9 L323.8,285.9 L324.3,285.9 L324.8,285.9 L325.3,285.9 L325.8,285.9 L326.3,285.9 L326.8,285.9 L327.3,285.9 L327.8,285.9 L328.3,285.9 L328.8,285.9 L329.3,285.9 L329.8,285.9 L330.3,285.9 L330.8,285.9 L331.3,285.9 L331.8,285.9 L332.3,285.9 L332.8,286.0 L333.3,286.0 L333.8,286.0 L334.3,286.0 L334.8,286.0 L335.3,286.0 L335.8,286.0 L336.3,286.0 L336.8,286.0 L337.3,286.0 L337.8,286.0 L338.3,286.0 L338.8,286.0 L339.3,286.0 L339.8,286.0 L340.3,286.0 L340.8,286.0 L341.3,286.0 L341.8,286.0 L342.3,286.0 L342.8,286.0 L343.3,286.0 L343.8,286.0 L344.3,286.0 L344.8,286.0 L344.8,286.0" fill="none" stroke="#2E7DB4" stroke-width="1.95" stroke-linejoin="round"/>
<line x1="293.33" y1="288.75" x2="293.33" y2="248.00" stroke="#6E6E6E" stroke-width="1" stroke-dasharray="3.4 3.8"/>
<rect x="0.00" y="293.75" width="113.33" height="12.3" fill="#D9D9D9"/>
<path d="M5.2,342.2 L5.7,342.2 L6.2,342.1 L6.7,342.0 L7.2,341.9 L7.7,341.8 L8.2,341.7 L8.7,341.6 L9.2,341.5 L9.7,341.4 L10.2,341.3 L10.7,341.2 L11.2,341.0 L11.7,340.8 L12.2,340.6 L12.7,340.4 L13.2,340.3 L13.7,340.3 L14.2,340.3 L14.7,340.3 L15.2,340.5 L15.7,340.6 L16.1,340.7 L16.6,340.9 L17.1,341.1 L17.6,341.3 L18.1,341.5 L18.6,341.8 L19.1,342.0 L19.6,342.2 L20.1,342.4 L20.6,342.6 L21.1,342.8 L21.6,342.9 L22.1,343.1 L22.6,343.1 L23.1,343.1 L23.6,343.1 L24.1,343.1 L24.6,343.1 L25.1,343.1 L25.6,343.1 L26.1,343.0 L26.6,343.0 L27.1,342.9 L27.6,342.8 L28.1,342.7 L28.6,342.5 L29.1,342.3 L29.6,342.1 L30.1,341.8 L30.6,341.4 L31.1,340.8 L31.6,340.3 L32.1,339.8 L32.6,339.3 L33.1,338.9 L33.6,338.7 L34.1,338.6 L34.6,338.5 L35.1,338.4 L35.6,338.4 L36.1,338.3 L36.6,338.2 L37.1,338.1 L37.6,338.0 L38.1,337.9 L38.6,337.9 L39.1,337.9 L39.6,337.9 L40.1,337.8 L40.6,337.8 L41.1,337.8 L41.6,337.7 L42.1,337.5 L42.6,337.2 L43.1,336.7 L43.6,336.3 L44.1,335.9 L44.6,335.6 L45.1,335.2 L45.6,334.9 L46.1,334.6 L46.6,334.2 L47.1,333.9 L47.6,333.6 L48.1,333.4 L48.6,333.1 L49.1,332.9 L49.6,332.6 L50.1,332.2 L50.6,331.7 L51.1,330.9 L51.6,329.7 L52.1,328.3 L52.6,326.9 L53.1,325.3 L53.6,323.6 L54.1,322.1 L54.6,320.8 L55.1,319.7 L55.6,318.9 L56.1,318.1 L56.6,318.0 L57.1,318.4 L57.6,319.2 L58.1,320.1 L58.6,321.3 L59.1,322.7 L59.6,324.2 L60.1,325.9 L60.6,327.4 L61.1,328.7 L61.6,329.9 L62.1,330.8 L62.6,331.6 L63.1,332.3 L63.6,332.9 L64.2,333.4 L64.7,333.9 L65.2,334.3 L65.7,334.8 L66.2,335.2 L66.7,335.6 L67.2,336.0 L67.7,336.3 L68.2,336.7 L68.7,337.1 L69.2,337.5 L69.7,338.0 L70.2,338.7 L70.7,339.5 L71.2,340.0 L71.7,340.4 L72.2,340.7 L72.7,340.9 L73.2,341.2 L73.7,341.4 L74.2,341.7 L74.7,341.9 L75.2,342.2 L75.7,342.4 L76.2,342.5 L76.7,342.6 L77.2,342.7 L77.7,342.8 L78.2,342.8 L78.7,342.8 L79.2,342.8 L79.7,342.8 L80.2,342.8 L80.7,342.8 L81.2,342.8 L81.7,342.8 L82.2,342.8 L82.7,342.6 L83.2,342.5 L83.7,342.3 L84.2,342.1 L84.7,342.0 L85.2,341.9 L85.7,341.7 L86.2,341.6 L86.7,341.4 L87.2,341.4 L87.7,341.4 L88.2,341.4 L88.7,341.5 L89.2,341.7 L89.7,341.8 L90.2,342.0 L90.7,342.1 L91.2,342.3 L91.7,342.5 L92.2,342.6 L92.7,342.8 L93.2,342.8 L93.7,342.8 L94.2,342.8 L94.7,342.8 L95.2,342.8 L95.7,342.8 L96.2,342.8 L96.7,342.8 L97.2,342.8 L97.7,342.8 L98.2,342.8 L98.7,342.8 L99.2,342.8 L99.7,342.8 L100.2,342.8 L100.7,342.8 L101.2,342.8 L101.7,342.8 L102.2,342.9 L102.7,342.9 L103.2,342.9 L103.7,342.9 L104.2,342.9 L104.7,342.9 L105.2,342.9 L105.7,342.9 L106.2,343.0 L106.7,343.0 L107.2,343.0 L107.7,343.0 L108.2,343.0 L108.2,343.1" fill="none" stroke="#D07137" stroke-width="1.95" stroke-linejoin="round"/>
<path d="M5.2,338.9 L5.7,339.0 L6.2,339.0 L6.7,339.1 L7.2,339.1 L7.7,339.1 L8.2,339.2 L8.7,339.2 L9.2,339.3 L9.7,339.3 L10.2,339.3 L10.7,339.3 L11.2,339.4 L11.7,339.4 L12.2,339.4 L12.7,339.4 L13.2,339.4 L13.7,339.5 L14.2,339.5 L14.7,339.5 L15.2,339.5 L15.7,339.5 L16.1,339.5 L16.6,339.5 L17.1,339.5 L17.6,339.5 L18.1,339.5 L18.6,339.5 L19.1,339.5 L19.6,339.5 L20.1,339.5 L20.6,339.4 L21.1,339.4 L21.6,339.4 L22.1,339.3 L22.6,339.3 L23.1,339.3 L23.6,339.2 L24.1,339.1 L24.6,339.1 L25.1,339.0 L25.6,338.9 L26.1,338.8 L26.6,338.7 L27.1,338.6 L27.6,338.5 L28.1,338.4 L28.6,338.3 L29.1,338.1 L29.6,338.0 L30.1,337.9 L30.6,337.8 L31.1,337.7 L31.6,337.6 L32.1,337.6 L32.6,337.5 L33.1,337.4 L33.6,337.3 L34.1,337.2 L34.6,337.1 L35.1,337.0 L35.6,336.9 L36.1,336.7 L36.6,336.5 L37.1,336.3 L37.6,336.1 L38.1,335.8 L38.6,335.5 L39.1,335.3 L39.6,335.0 L40.1,334.7 L40.6,334.4 L41.1,334.1 L41.6,333.8 L42.1,333.5 L42.6,333.2 L43.1,332.9 L43.6,332.6 L44.1,332.3 L44.6,332.0 L45.1,331.7 L45.6,331.4 L46.1,331.1 L46.6,330.8 L47.1,330.5 L47.6,330.3 L48.1,330.0 L48.6,329.7 L49.1,329.4 L49.6,329.2 L50.1,328.9 L50.6,328.7 L51.1,328.4 L51.6,328.2 L52.1,328.0 L52.6,327.8 L53.1,327.7 L53.6,327.5 L54.1,327.3 L54.6,327.2 L55.1,327.2 L55.6,327.2 L56.1,327.4 L56.6,327.6 L57.1,327.9 L57.6,328.2 L58.1,328.5 L58.6,328.9 L59.1,329.3 L59.6,329.7 L60.1,330.2 L60.6,330.8 L61.1,331.3 L61.6,331.8 L62.1,332.3 L62.6,332.8 L63.1,333.3 L63.6,333.8 L64.2,334.4 L64.7,335.0 L65.2,335.6 L65.7,336.2 L66.2,336.8 L66.7,337.4 L67.2,338.0 L67.7,338.5 L68.2,339.0 L68.7,339.5 L69.2,340.0 L69.7,340.5 L70.2,341.0 L70.7,341.4 L71.2,341.8 L71.7,342.1 L72.2,342.4 L72.7,342.7 L73.2,342.9 L73.7,343.1 L74.2,343.3 L74.7,343.4 L75.2,343.6 L75.7,343.7 L76.2,343.8 L76.7,343.9 L77.2,344.0 L77.7,344.1 L78.2,344.1 L78.7,344.2 L79.2,344.2 L79.7,344.2 L80.2,344.3 L80.7,344.3 L81.2,344.3 L81.7,344.3 L82.2,344.3 L82.7,344.3 L83.2,344.4 L83.7,344.4 L84.2,344.4 L84.7,344.4 L85.2,344.4 L85.7,344.4 L86.2,344.4 L86.7,344.4 L87.2,344.4 L87.7,344.4 L88.2,344.4 L88.7,344.4 L89.2,344.4 L89.7,344.4 L90.2,344.5 L90.7,344.5 L91.2,344.5 L91.7,344.5 L92.2,344.5 L92.7,344.5 L93.2,344.5 L93.7,344.5 L94.2,344.5 L94.7,344.5 L95.2,344.5 L95.7,344.5 L96.2,344.5 L96.7,344.5 L97.2,344.5 L97.7,344.5 L98.2,344.5 L98.7,344.5 L99.2,344.5 L99.7,344.5 L100.2,344.5 L100.7,344.5 L101.2,344.5 L101.7,344.5 L102.2,344.5 L102.7,344.5 L103.2,344.5 L103.7,344.5 L104.2,344.5 L104.7,344.5 L105.2,344.5 L105.7,344.5 L106.2,344.5 L106.7,344.5 L107.2,344.5 L107.7,344.5 L108.2,344.5 L108.2,344.6" fill="none" stroke="#2E7DB4" stroke-width="1.95" stroke-linejoin="round"/>
<line x1="56.67" y1="346.80" x2="56.67" y2="306.05" stroke="#6E6E6E" stroke-width="1" stroke-dasharray="3.4 3.8"/>
<rect x="118.33" y="293.75" width="113.33" height="12.3" fill="#D9D9D9"/>
<path d="M123.5,344.2 L124.0,344.2 L124.5,344.2 L125.0,344.2 L125.5,344.2 L126.0,344.2 L126.5,344.2 L127.0,344.2 L127.5,344.2 L128.0,344.2 L128.5,344.2 L129.0,344.2 L129.5,344.2 L130.0,344.2 L130.5,344.2 L131.0,344.2 L131.5,344.2 L132.0,344.2 L132.5,344.2 L133.0,344.2 L133.5,344.1 L134.0,344.1 L134.5,344.1 L135.0,344.1 L135.5,344.1 L136.0,344.1 L136.5,344.1 L137.0,344.1 L137.5,344.1 L138.0,344.1 L138.5,344.1 L139.0,344.1 L139.5,344.1 L140.0,344.1 L140.5,344.1 L141.0,344.0 L141.5,344.0 L142.0,344.0 L142.5,344.0 L143.0,344.0 L143.5,344.0 L144.0,344.0 L144.5,344.0 L145.0,344.0 L145.5,344.0 L146.0,344.0 L146.5,343.9 L147.0,343.9 L147.5,343.9 L148.0,343.9 L148.5,343.8 L149.0,343.8 L149.5,343.7 L150.0,343.7 L150.5,343.6 L151.0,343.5 L151.5,343.5 L152.0,343.4 L152.5,343.3 L153.0,343.2 L153.5,343.1 L154.0,343.0 L154.5,342.9 L155.0,342.8 L155.5,342.6 L156.0,342.5 L156.5,342.3 L157.0,342.0 L157.5,341.8 L158.0,341.5 L158.5,341.2 L159.0,340.9 L159.5,340.6 L160.0,340.3 L160.5,339.9 L161.0,339.5 L161.5,339.1 L162.0,338.6 L162.5,338.1 L163.0,337.5 L163.5,336.9 L164.0,336.2 L164.5,335.6 L165.0,334.8 L165.5,334.0 L166.0,333.0 L166.5,331.7 L167.0,330.1 L167.5,328.3 L168.0,326.6 L168.5,324.7 L169.0,322.7 L169.5,320.9 L170.0,319.2 L170.5,317.5 L171.0,315.9 L171.5,314.3 L172.0,312.7 L172.5,311.3 L173.0,310.4 L173.5,309.7 L174.0,309.1 L174.5,308.6 L175.0,308.4 L175.5,308.5 L176.0,309.1 L176.5,309.9 L177.0,310.7 L177.5,311.6 L178.0,312.7 L178.5,314.3 L179.0,316.2 L179.5,318.1 L180.0,320.1 L180.5,321.9 L181.0,323.6 L181.5,325.2 L182.0,326.6 L182.5,327.8 L183.0,328.9 L183.5,329.8 L184.0,330.6 L184.5,331.4 L185.0,332.1 L185.5,332.8 L186.0,333.5 L186.5,334.1 L187.0,334.6 L187.5,335.1 L188.0,335.5 L188.5,336.0 L189.0,336.5 L189.5,337.1 L190.0,337.7 L190.5,338.3 L191.0,338.8 L191.5,339.3 L192.0,339.9 L192.5,340.3 L193.0,340.7 L193.5,341.0 L194.0,341.3 L194.5,341.5 L195.0,341.7 L195.5,341.9 L196.0,342.0 L196.5,342.1 L197.0,342.2 L197.5,342.3 L198.0,342.4 L198.5,342.4 L199.0,342.5 L199.5,342.5 L200.0,342.6 L200.5,342.6 L201.0,342.6 L201.5,342.7 L202.0,342.7 L202.5,342.7 L203.0,342.7 L203.5,342.8 L204.0,342.8 L204.5,342.8 L205.0,342.8 L205.5,342.8 L206.0,342.8 L206.5,342.9 L207.0,342.9 L207.5,342.9 L208.0,342.9 L208.5,342.9 L209.0,342.9 L209.5,343.0 L210.0,343.0 L210.5,343.0 L211.0,343.0 L211.5,343.1 L212.0,343.1 L212.5,343.1 L213.0,343.2 L213.5,343.2 L214.0,343.2 L214.5,343.3 L215.0,343.3 L215.5,343.4 L216.0,343.4 L216.5,343.4 L217.0,343.5 L217.5,343.6 L218.0,343.6 L218.5,343.7 L219.0,343.7 L219.5,343.8 L220.0,343.9 L220.5,343.9 L221.0,344.0 L221.5,344.1 L222.0,344.1 L222.5,344.2 L223.0,344.2 L223.5,344.3 L224.0,344.3 L224.5,344.4 L225.0,344.4 L225.5,344.5 L226.0,344.5 L226.5,344.5 L226.5,344.6" fill="none" stroke="#D07137" stroke-width="1.95" stroke-linejoin="round"/>
<path d="M123.5,340.6 L124.0,340.5 L124.5,340.3 L125.0,340.1 L125.5,340.0 L126.0,339.8 L126.5,339.6 L127.0,339.4 L127.5,339.2 L128.0,338.9 L128.5,338.7 L129.0,338.5 L129.5,338.3 L130.0,338.2 L130.5,338.1 L131.0,338.0 L131.5,337.9 L132.0,337.9 L132.5,337.8 L133.0,337.7 L133.5,337.7 L134.0,337.6 L134.5,337.6 L135.0,337.5 L135.5,337.5 L136.0,337.5 L136.5,337.5 L137.0,337.5 L137.5,337.5 L138.0,337.5 L138.5,337.5 L139.0,337.6 L139.5,337.6 L140.0,337.7 L140.5,337.7 L141.0,337.8 L141.5,337.9 L142.0,338.0 L142.5,338.1 L143.0,338.2 L143.5,338.3 L144.0,338.4 L144.5,338.5 L145.0,338.7 L145.5,338.8 L146.0,338.9 L146.5,339.0 L147.0,339.1 L147.5,339.2 L148.0,339.4 L148.5,339.5 L149.0,339.6 L149.5,339.7 L150.0,339.7 L150.5,339.8 L151.0,339.9 L151.5,340.0 L152.0,340.0 L152.5,340.0 L153.0,340.1 L153.5,340.1 L154.0,340.1 L154.5,340.1 L155.0,340.1 L155.5,340.1 L156.0,340.0 L156.5,339.9 L157.0,339.8 L157.5,339.6 L158.0,339.3 L158.5,339.1 L159.0,338.9 L159.5,338.6 L160.0,338.4 L160.5,338.1 L161.0,337.7 L161.5,337.4 L162.0,337.1 L162.5,336.7 L163.0,336.3 L163.5,335.9 L164.0,335.5 L164.5,335.0 L165.0,334.5 L165.5,334.0 L166.0,333.5 L166.5,332.9 L167.0,332.4 L167.5,331.9 L168.0,331.4 L168.5,331.0 L169.0,330.5 L169.5,330.1 L170.0,329.7 L170.5,329.2 L171.0,328.8 L171.5,328.4 L172.0,328.1 L172.5,327.7 L173.0,327.4 L173.5,327.1 L174.0,326.8 L174.5,326.6 L175.0,326.6 L175.5,326.6 L176.0,326.7 L176.5,326.9 L177.0,327.2 L177.5,327.5 L178.0,327.9 L178.5,328.2 L179.0,328.6 L179.5,329.2 L180.0,329.9 L180.5,330.5 L181.0,331.1 L181.5,331.7 L182.0,332.2 L182.5,332.7 L183.0,333.3 L183.5,333.8 L184.0,334.4 L184.5,334.9 L185.0,335.5 L185.5,336.0 L186.0,336.5 L186.5,337.0 L187.0,337.4 L187.5,337.9 L188.0,338.2 L188.5,338.6 L189.0,338.9 L189.5,339.2 L190.0,339.5 L190.5,339.8 L191.0,340.1 L191.5,340.4 L192.0,340.7 L192.5,340.9 L193.0,341.2 L193.5,341.4 L194.0,341.6 L194.5,341.8 L195.0,341.9 L195.5,342.1 L196.0,342.2 L196.5,342.4 L197.0,342.5 L197.5,342.6 L198.0,342.7 L198.5,342.8 L199.0,342.8 L199.5,342.9 L200.0,343.0 L200.5,343.1 L201.0,343.1 L201.5,343.2 L202.0,343.3 L202.5,343.3 L203.0,343.4 L203.5,343.4 L204.0,343.5 L204.5,343.5 L205.0,343.5 L205.5,343.6 L206.0,343.6 L206.5,343.7 L207.0,343.7 L207.5,343.7 L208.0,343.8 L208.5,343.8 L209.0,343.8 L209.5,343.8 L210.0,343.9 L210.5,343.9 L211.0,343.9 L211.5,343.9 L212.0,344.0 L212.5,344.0 L213.0,344.0 L213.5,344.0 L214.0,344.0 L214.5,344.1 L215.0,344.1 L215.5,344.1 L216.0,344.1 L216.5,344.2 L217.0,344.2 L217.5,344.2 L218.0,344.2 L218.5,344.2 L219.0,344.3 L219.5,344.3 L220.0,344.3 L220.5,344.3 L221.0,344.3 L221.5,344.4 L222.0,344.4 L222.5,344.4 L223.0,344.4 L223.5,344.4 L224.0,344.5 L224.5,344.5 L225.0,344.5 L225.5,344.5 L226.0,344.5 L226.5,344.5 L226.5,344.6" fill="none" stroke="#2E7DB4" stroke-width="1.95" stroke-linejoin="round"/>
<line x1="175.00" y1="346.80" x2="175.00" y2="306.05" stroke="#6E6E6E" stroke-width="1" stroke-dasharray="3.4 3.8"/>
<rect x="236.67" y="293.75" width="113.33" height="12.3" fill="#D9D9D9"/>
<path d="M241.8,337.8 L242.3,338.2 L242.8,338.6 L243.3,339.0 L243.8,339.3 L244.3,339.7 L244.8,340.0 L245.3,340.3 L245.8,340.6 L246.3,340.9 L246.8,341.1 L247.3,341.3 L247.8,341.5 L248.3,341.7 L248.8,341.9 L249.3,342.0 L249.8,342.2 L250.3,342.3 L250.8,342.5 L251.3,342.6 L251.8,342.8 L252.3,342.9 L252.8,342.9 L253.3,342.9 L253.8,342.9 L254.3,342.9 L254.8,342.8 L255.3,342.7 L255.8,342.7 L256.3,342.6 L256.8,342.5 L257.3,342.4 L257.8,342.3 L258.3,342.2 L258.8,342.0 L259.3,341.9 L259.8,341.8 L260.3,341.6 L260.8,341.5 L261.3,341.3 L261.8,341.2 L262.3,341.1 L262.8,341.0 L263.3,340.9 L263.8,340.7 L264.3,340.6 L264.8,340.5 L265.3,340.4 L265.8,340.3 L266.3,340.2 L266.8,340.1 L267.3,340.0 L267.8,339.9 L268.3,339.8 L268.8,339.7 L269.3,339.6 L269.8,339.5 L270.3,339.3 L270.8,339.2 L271.3,339.0 L271.8,338.9 L272.3,338.7 L272.8,338.5 L273.3,338.3 L273.8,338.1 L274.3,337.9 L274.8,337.7 L275.3,337.4 L275.8,337.2 L276.3,336.9 L276.8,336.7 L277.3,336.4 L277.8,336.0 L278.3,335.6 L278.8,335.2 L279.3,334.8 L279.8,334.3 L280.3,333.9 L280.8,333.4 L281.3,332.9 L281.8,332.4 L282.3,331.9 L282.8,331.3 L283.3,330.7 L283.8,330.1 L284.3,329.4 L284.8,328.8 L285.3,328.2 L285.8,327.5 L286.3,326.9 L286.8,326.3 L287.3,325.6 L287.8,325.0 L288.3,324.3 L288.8,323.6 L289.3,323.0 L289.8,322.5 L290.3,322.1 L290.8,321.6 L291.3,321.2 L291.8,320.9 L292.3,320.8 L292.8,320.8 L293.3,321.2 L293.8,321.7 L294.3,322.4 L294.8,323.4 L295.3,324.6 L295.8,326.0 L296.3,327.3 L296.8,328.5 L297.3,329.8 L297.8,331.1 L298.3,332.4 L298.8,333.7 L299.3,335.0 L299.8,336.1 L300.3,337.0 L300.8,337.8 L301.3,338.6 L301.8,339.3 L302.3,339.9 L302.8,340.5 L303.3,341.0 L303.8,341.4 L304.3,341.7 L304.8,342.0 L305.3,342.2 L305.8,342.5 L306.3,342.7 L306.8,342.9 L307.3,343.1 L307.8,343.2 L308.3,343.3 L308.8,343.4 L309.3,343.4 L309.8,343.5 L310.3,343.5 L310.8,343.6 L311.3,343.6 L311.8,343.7 L312.3,343.7 L312.8,343.8 L313.3,343.8 L313.8,343.8 L314.3,343.9 L314.8,343.9 L315.3,343.9 L315.8,344.0 L316.3,344.0 L316.8,344.0 L317.3,344.0 L317.8,344.1 L318.3,344.1 L318.8,344.1 L319.3,344.2 L319.8,344.2 L320.3,344.2 L320.8,344.2 L321.3,344.2 L321.8,344.3 L322.3,344.3 L322.8,344.3 L323.3,344.3 L323.8,344.3 L324.3,344.3 L324.8,344.3 L325.3,344.3 L325.8,344.3 L326.3,344.3 L326.8,344.3 L327.3,344.3 L327.8,344.3 L328.3,344.3 L328.8,344.3 L329.3,344.3 L329.8,344.3 L330.3,344.2 L330.8,344.2 L331.3,344.2 L331.8,344.1 L332.3,344.1 L332.8,344.0 L333.3,344.0 L333.8,344.0 L334.3,343.9 L334.8,343.9 L335.3,343.8 L335.8,343.7 L336.3,343.7 L336.8,343.6 L337.3,343.5 L337.8,343.5 L338.3,343.4 L338.8,343.3 L339.3,343.2 L339.8,343.1 L340.3,343.0 L340.8,342.9 L341.3,342.8 L341.8,342.7 L342.3,342.6 L342.8,342.5 L343.3,342.5 L343.8,342.4 L344.3,342.3 L344.8,342.3 L344.8,342.2" fill="none" stroke="#D07137" stroke-width="1.95" stroke-linejoin="round"/>
<path d="M241.8,338.8 L242.3,338.9 L242.8,339.0 L243.3,339.1 L243.8,339.2 L244.3,339.3 L244.8,339.5 L245.3,339.6 L245.8,339.7 L246.3,339.8 L246.8,339.9 L247.3,340.1 L247.8,340.2 L248.3,340.3 L248.8,340.4 L249.3,340.4 L249.8,340.4 L250.3,340.4 L250.8,340.4 L251.3,340.4 L251.8,340.4 L252.3,340.4 L252.8,340.4 L253.3,340.4 L253.8,340.4 L254.3,340.4 L254.8,340.4 L255.3,340.4 L255.8,340.3 L256.3,340.3 L256.8,340.3 L257.3,340.3 L257.8,340.3 L258.3,340.2 L258.8,340.2 L259.3,340.1 L259.8,340.1 L260.3,340.1 L260.8,340.0 L261.3,340.0 L261.8,339.9 L262.3,339.9 L262.8,339.8 L263.3,339.8 L263.8,339.7 L264.3,339.6 L264.8,339.6 L265.3,339.5 L265.8,339.4 L266.3,339.3 L266.8,339.3 L267.3,339.2 L267.8,339.1 L268.3,339.1 L268.8,339.0 L269.3,338.9 L269.8,338.9 L270.3,338.8 L270.8,338.7 L271.3,338.7 L271.8,338.6 L272.3,338.5 L272.8,338.4 L273.3,338.3 L273.8,338.2 L274.3,338.1 L274.8,338.0 L275.3,337.9 L275.8,337.8 L276.3,337.7 L276.8,337.5 L277.3,337.4 L277.8,337.2 L278.3,337.1 L278.8,337.0 L279.3,336.8 L279.8,336.7 L280.3,336.5 L280.8,336.3 L281.3,336.2 L281.8,336.0 L282.3,335.8 L282.8,335.7 L283.3,335.5 L283.8,335.4 L284.3,335.3 L284.8,335.1 L285.3,335.0 L285.8,334.9 L286.3,334.8 L286.8,334.7 L287.3,334.6 L287.8,334.5 L288.3,334.4 L288.8,334.4 L289.3,334.4 L289.8,334.3 L290.3,334.3 L290.8,334.3 L291.3,334.3 L291.8,334.3 L292.3,334.3 L292.8,334.3 L293.3,334.3 L293.8,334.4 L294.3,334.5 L294.8,334.6 L295.3,334.8 L295.8,334.9 L296.3,335.0 L296.8,335.2 L297.3,335.4 L297.8,335.7 L298.3,335.9 L298.8,336.1 L299.3,336.4 L299.8,336.6 L300.3,336.9 L300.8,337.2 L301.3,337.4 L301.8,337.7 L302.3,337.9 L302.8,338.2 L303.3,338.4 L303.8,338.6 L304.3,338.9 L304.8,339.1 L305.3,339.3 L305.8,339.5 L306.3,339.7 L306.8,339.8 L307.3,340.0 L307.8,340.2 L308.3,340.3 L308.8,340.4 L309.3,340.6 L309.8,340.7 L310.3,340.8 L310.8,340.9 L311.3,341.0 L311.8,341.1 L312.3,341.1 L312.8,341.2 L313.3,341.3 L313.8,341.4 L314.3,341.4 L314.8,341.5 L315.3,341.5 L315.8,341.6 L316.3,341.6 L316.8,341.7 L317.3,341.7 L317.8,341.8 L318.3,341.8 L318.8,341.9 L319.3,341.9 L319.8,342.0 L320.3,342.0 L320.8,342.1 L321.3,342.1 L321.8,342.2 L322.3,342.2 L322.8,342.2 L323.3,342.2 L323.8,342.2 L324.3,342.2 L324.8,342.2 L325.3,342.2 L325.8,342.2 L326.3,342.2 L326.8,342.2 L327.3,342.2 L327.8,342.2 L328.3,342.2 L328.8,342.2 L329.3,342.2 L329.8,342.2 L330.3,342.2 L330.8,342.2 L331.3,342.2 L331.8,342.2 L332.3,342.2 L332.8,342.2 L333.3,342.2 L333.8,342.2 L334.3,342.2 L334.8,342.2 L335.3,342.2 L335.8,342.2 L336.3,342.2 L336.8,342.2 L337.3,342.2 L337.8,342.2 L338.3,342.2 L338.8,342.2 L339.3,342.2 L339.8,342.2 L340.3,342.2 L340.8,342.2 L341.3,342.2 L341.8,342.2 L342.3,342.2 L342.8,342.2 L343.3,342.2 L343.8,342.2 L344.3,342.2 L344.8,342.2 L344.8,342.2" fill="none" stroke="#2E7DB4" stroke-width="1.95" stroke-linejoin="round"/>
<line x1="293.33" y1="346.80" x2="293.33" y2="306.05" stroke="#6E6E6E" stroke-width="1" stroke-dasharray="3.4 3.8"/>
<rect x="0.00" y="351.80" width="113.33" height="12.3" fill="#D9D9D9"/>
<path d="M5.2,396.3 L5.7,396.5 L6.2,396.7 L6.7,396.9 L7.2,397.0 L7.7,397.2 L8.2,397.4 L8.7,397.5 L9.2,397.7 L9.7,397.8 L10.2,398.0 L10.7,398.1 L11.2,398.2 L11.7,398.3 L12.2,398.4 L12.7,398.5 L13.2,398.5 L13.7,398.6 L14.2,398.6 L14.7,398.7 L15.2,398.7 L15.7,398.7 L16.1,398.7 L16.6,398.6 L17.1,398.6 L17.6,398.5 L18.1,398.4 L18.6,398.3 L19.1,398.2 L19.6,398.1 L20.1,398.1 L20.6,398.0 L21.1,397.9 L21.6,397.8 L22.1,397.8 L22.6,397.7 L23.1,397.6 L23.6,397.5 L24.1,397.4 L24.6,397.4 L25.1,397.3 L25.6,397.2 L26.1,397.1 L26.6,397.1 L27.1,397.0 L27.6,396.9 L28.1,396.8 L28.6,396.8 L29.1,396.7 L29.6,396.6 L30.1,396.5 L30.6,396.5 L31.1,396.4 L31.6,396.3 L32.1,396.2 L32.6,396.1 L33.1,396.0 L33.6,396.0 L34.1,395.9 L34.6,395.8 L35.1,395.7 L35.6,395.6 L36.1,395.5 L36.6,395.3 L37.1,395.2 L37.6,395.1 L38.1,394.9 L38.6,394.8 L39.1,394.6 L39.6,394.4 L40.1,394.3 L40.6,394.1 L41.1,393.9 L41.6,393.7 L42.1,393.4 L42.6,393.2 L43.1,393.0 L43.6,392.7 L44.1,392.4 L44.6,392.1 L45.1,391.8 L45.6,391.5 L46.1,391.2 L46.6,390.8 L47.1,390.4 L47.6,390.0 L48.1,389.6 L48.6,389.0 L49.1,388.4 L49.6,387.7 L50.1,387.1 L50.6,386.5 L51.1,386.0 L51.6,385.5 L52.1,384.9 L52.6,384.5 L53.1,384.1 L53.6,383.8 L54.1,383.5 L54.6,383.3 L55.1,383.1 L55.6,382.9 L56.1,382.9 L56.6,383.1 L57.1,383.4 L57.6,383.7 L58.1,384.2 L58.6,384.9 L59.1,385.6 L59.6,386.3 L60.1,387.1 L60.6,387.9 L61.1,388.7 L61.6,389.5 L62.1,390.3 L62.6,391.1 L63.1,391.8 L63.6,392.6 L64.2,393.3 L64.7,394.0 L65.2,394.7 L65.7,395.3 L66.2,396.0 L66.7,396.5 L67.2,397.1 L67.7,397.6 L68.2,398.1 L68.7,398.6 L69.2,399.1 L69.7,399.5 L70.2,399.9 L70.7,400.2 L71.2,400.5 L71.7,400.7 L72.2,400.9 L72.7,401.1 L73.2,401.3 L73.7,401.4 L74.2,401.5 L74.7,401.6 L75.2,401.8 L75.7,401.9 L76.2,402.0 L76.7,402.1 L77.2,402.2 L77.7,402.2 L78.2,402.3 L78.7,402.4 L79.2,402.5 L79.7,402.5 L80.2,402.6 L80.7,402.6 L81.2,402.7 L81.7,402.7 L82.2,402.7 L82.7,402.7 L83.2,402.7 L83.7,402.7 L84.2,402.8 L84.7,402.8 L85.2,402.8 L85.7,402.8 L86.2,402.8 L86.7,402.8 L87.2,402.8 L87.7,402.8 L88.2,402.8 L88.7,402.8 L89.2,402.8 L89.7,402.8 L90.2,402.8 L90.7,402.8 L91.2,402.8 L91.7,402.8 L92.2,402.7 L92.7,402.7 L93.2,402.7 L93.7,402.7 L94.2,402.7 L94.7,402.6 L95.2,402.6 L95.7,402.6 L96.2,402.5 L96.7,402.5 L97.2,402.4 L97.7,402.4 L98.2,402.3 L98.7,402.3 L99.2,402.2 L99.7,402.2 L100.2,402.1 L100.7,402.1 L101.2,402.0 L101.7,402.0 L102.2,401.9 L102.7,401.8 L103.2,401.8 L103.7,401.7 L104.2,401.7 L104.7,401.6 L105.2,401.5 L105.7,401.5 L106.2,401.4 L106.7,401.3 L107.2,401.2 L107.7,401.2 L108.2,401.1 L108.2,401.1" fill="none" stroke="#D07137" stroke-width="1.95" stroke-linejoin="round"/>
<path d="M5.2,398.5 L5.7,398.6 L6.2,398.6 L6.7,398.7 L7.2,398.8 L7.7,398.8 L8.2,398.9 L8.7,398.9 L9.2,398.9 L9.7,399.0 L10.2,399.0 L10.7,399.0 L11.2,399.1 L11.7,399.1 L12.2,399.1 L12.7,399.1 L13.2,399.2 L13.7,399.2 L14.2,399.2 L14.7,399.2 L15.2,399.2 L15.7,399.2 L16.1,399.2 L16.6,399.2 L17.1,399.1 L17.6,399.1 L18.1,399.0 L18.6,399.0 L19.1,398.9 L19.6,398.9 L20.1,398.8 L20.6,398.8 L21.1,398.7 L21.6,398.7 L22.1,398.7 L22.6,398.6 L23.1,398.6 L23.6,398.5 L24.1,398.5 L24.6,398.4 L25.1,398.4 L25.6,398.3 L26.1,398.3 L26.6,398.2 L27.1,398.1 L27.6,398.1 L28.1,398.0 L28.6,398.0 L29.1,397.9 L29.6,397.9 L30.1,397.8 L30.6,397.7 L31.1,397.7 L31.6,397.6 L32.1,397.5 L32.6,397.5 L33.1,397.4 L33.6,397.3 L34.1,397.2 L34.6,397.2 L35.1,397.1 L35.6,397.0 L36.1,396.9 L36.6,396.7 L37.1,396.6 L37.6,396.5 L38.1,396.3 L38.6,396.1 L39.1,395.9 L39.6,395.7 L40.1,395.6 L40.6,395.4 L41.1,395.1 L41.6,394.9 L42.1,394.7 L42.6,394.4 L43.1,394.2 L43.6,394.0 L44.1,393.7 L44.6,393.5 L45.1,393.3 L45.6,393.1 L46.1,392.9 L46.6,392.7 L47.1,392.5 L47.6,392.2 L48.1,392.0 L48.6,391.8 L49.1,391.6 L49.6,391.4 L50.1,391.2 L50.6,391.0 L51.1,390.9 L51.6,390.7 L52.1,390.6 L52.6,390.5 L53.1,390.4 L53.6,390.4 L54.1,390.4 L54.6,390.3 L55.1,390.3 L55.6,390.3 L56.1,390.3 L56.6,390.4 L57.1,390.5 L57.6,390.6 L58.1,390.7 L58.6,390.8 L59.1,391.0 L59.6,391.1 L60.1,391.3 L60.6,391.4 L61.1,391.6 L61.6,391.9 L62.1,392.2 L62.6,392.5 L63.1,392.8 L63.6,393.2 L64.2,393.5 L64.7,393.8 L65.2,394.2 L65.7,394.6 L66.2,394.9 L66.7,395.2 L67.2,395.6 L67.7,395.8 L68.2,396.1 L68.7,396.4 L69.2,396.7 L69.7,396.9 L70.2,397.2 L70.7,397.4 L71.2,397.7 L71.7,397.9 L72.2,398.1 L72.7,398.2 L73.2,398.3 L73.7,398.5 L74.2,398.6 L74.7,398.7 L75.2,398.7 L75.7,398.8 L76.2,398.8 L76.7,398.8 L77.2,398.8 L77.7,398.9 L78.2,398.9 L78.7,398.9 L79.2,398.9 L79.7,398.9 L80.2,398.9 L80.7,398.9 L81.2,398.9 L81.7,398.9 L82.2,398.9 L82.7,398.9 L83.2,398.9 L83.7,398.9 L84.2,398.9 L84.7,398.9 L85.2,398.8 L85.7,398.8 L86.2,398.8 L86.7,398.8 L87.2,398.8 L87.7,398.7 L88.2,398.7 L88.7,398.7 L89.2,398.6 L89.7,398.6 L90.2,398.6 L90.7,398.5 L91.2,398.5 L91.7,398.5 L92.2,398.5 L92.7,398.5 L93.2,398.6 L93.7,398.6 L94.2,398.7 L94.7,398.8 L95.2,398.9 L95.7,399.0 L96.2,399.0 L96.7,399.1 L97.2,399.2 L97.7,399.2 L98.2,399.3 L98.7,399.4 L99.2,399.5 L99.7,399.6 L100.2,399.7 L100.7,399.8 L101.2,399.9 L101.7,400.0 L102.2,400.0 L102.7,400.1 L103.2,400.2 L103.7,400.3 L104.2,400.4 L104.7,400.5 L105.2,400.6 L105.7,400.7 L106.2,400.8 L106.7,400.9 L107.2,400.9 L107.7,401.0 L108.2,401.1 L108.2,401.1" fill="none" stroke="#2E7DB4" stroke-width="1.95" stroke-linejoin="round"/>
<line x1="56.67" y1="404.85" x2="56.67" y2="364.10" stroke="#6E6E6E" stroke-width="1" stroke-dasharray="3.4 3.8"/>
<rect x="118.33" y="351.80" width="113.33" height="12.3" fill="#D9D9D9"/>
<path d="M123.5,401.4 L124.0,401.6 L124.5,401.8 L125.0,402.0 L125.5,402.1 L126.0,402.2 L126.5,402.3 L127.0,402.4 L127.5,402.5 L128.0,402.6 L128.5,402.6 L129.0,402.5 L129.5,402.4 L130.0,402.3 L130.5,402.2 L131.0,402.1 L131.5,401.9 L132.0,401.7 L132.5,401.6 L133.0,401.4 L133.5,401.4 L134.0,401.5 L134.5,401.6 L135.0,401.8 L135.5,401.9 L136.0,402.1 L136.5,402.2 L137.0,402.3 L137.5,402.5 L138.0,402.6 L138.5,402.6 L139.0,402.6 L139.5,402.4 L140.0,402.2 L140.5,402.0 L141.0,401.9 L141.5,401.7 L142.0,401.4 L142.5,401.2 L143.0,401.0 L143.5,400.9 L144.0,400.9 L144.5,400.9 L145.0,401.0 L145.5,401.0 L146.0,401.1 L146.5,401.1 L147.0,401.2 L147.5,401.3 L148.0,401.3 L148.5,401.4 L149.0,401.4 L149.5,401.3 L150.0,401.0 L150.5,400.7 L151.0,400.3 L151.5,400.0 L152.0,399.6 L152.5,399.2 L153.0,398.8 L153.5,398.4 L154.0,398.3 L154.5,398.3 L155.0,398.4 L155.5,398.6 L156.0,398.8 L156.5,399.0 L157.0,399.1 L157.5,399.4 L158.0,399.7 L158.5,399.9 L159.0,400.0 L159.5,399.9 L160.0,399.6 L160.5,399.1 L161.0,398.4 L161.5,397.8 L162.0,397.2 L162.5,396.4 L163.0,395.5 L163.5,394.7 L164.0,394.1 L164.5,394.0 L165.0,394.2 L165.5,394.4 L166.0,394.7 L166.5,395.0 L167.0,395.4 L167.5,395.7 L168.0,395.6 L168.5,394.8 L169.0,393.7 L169.5,392.4 L170.0,390.9 L170.5,389.1 L171.0,387.0 L171.5,384.4 L172.0,381.0 L172.5,377.7 L173.0,374.5 L173.5,371.4 L174.0,368.5 L174.5,366.1 L175.0,366.2 L175.5,366.5 L176.0,367.8 L176.5,369.6 L177.0,371.8 L177.5,374.7 L178.0,378.1 L178.5,381.3 L179.0,384.4 L179.5,387.1 L180.0,388.8 L180.5,389.9 L181.0,389.9 L181.5,389.7 L182.0,388.5 L182.5,386.2 L183.0,383.7 L183.5,381.0 L184.0,377.4 L184.5,374.4 L185.0,373.3 L185.5,373.0 L186.0,373.3 L186.5,374.2 L187.0,376.0 L187.5,378.9 L188.0,381.9 L188.5,385.4 L189.0,388.8 L189.5,391.7 L190.0,394.2 L190.5,396.2 L191.0,397.7 L191.5,398.8 L192.0,399.3 L192.5,399.6 L193.0,399.8 L193.5,399.9 L194.0,400.0 L194.5,400.1 L195.0,400.2 L195.5,400.2 L196.0,400.3 L196.5,400.4 L197.0,400.5 L197.5,400.5 L198.0,400.6 L198.5,400.7 L199.0,400.7 L199.5,400.8 L200.0,400.8 L200.5,400.9 L201.0,400.9 L201.5,400.9 L202.0,400.7 L202.5,400.4 L203.0,400.2 L203.5,399.9 L204.0,399.7 L204.5,399.4 L205.0,399.2 L205.5,399.1 L206.0,399.2 L206.5,399.5 L207.0,399.9 L207.5,400.2 L208.0,400.5 L208.5,400.8 L209.0,401.1 L209.5,401.3 L210.0,401.4 L210.5,401.5 L211.0,401.6 L211.5,401.6 L212.0,401.7 L212.5,401.7 L213.0,401.8 L213.5,401.8 L214.0,401.9 L214.5,402.0 L215.0,402.0 L215.5,402.1 L216.0,402.1 L216.5,402.1 L217.0,402.1 L217.5,402.1 L218.0,402.1 L218.5,402.1 L219.0,402.1 L219.5,402.1 L220.0,402.1 L220.5,402.1 L221.0,402.1 L221.5,402.1 L222.0,402.1 L222.5,402.1 L223.0,402.1 L223.5,402.1 L224.0,402.1 L224.5,402.2 L225.0,402.4 L225.5,402.6 L226.0,402.8 L226.5,403.0 L226.5,403.0" fill="none" stroke="#D07137" stroke-width="1.95" stroke-linejoin="round"/>
<path d="M123.5,399.7 L124.0,399.9 L124.5,400.2 L125.0,400.4 L125.5,400.6 L126.0,400.9 L126.5,401.1 L127.0,401.3 L127.5,401.4 L128.0,401.4 L128.5,401.3 L129.0,401.1 L129.5,401.0 L130.0,400.8 L130.5,400.7 L131.0,400.5 L131.5,400.3 L132.0,400.1 L132.5,399.9 L133.0,399.7 L133.5,399.7 L134.0,399.8 L134.5,399.9 L135.0,400.2 L135.5,400.4 L136.0,400.6 L136.5,400.8 L137.0,401.0 L137.5,401.2 L138.0,401.3 L138.5,401.4 L139.0,401.4 L139.5,401.2 L140.0,401.0 L140.5,400.8 L141.0,400.7 L141.5,400.5 L142.0,400.2 L142.5,400.0 L143.0,399.8 L143.5,399.7 L144.0,399.7 L144.5,399.8 L145.0,399.9 L145.5,400.1 L146.0,400.2 L146.5,400.3 L147.0,400.5 L147.5,400.6 L148.0,400.8 L148.5,400.9 L149.0,400.9 L149.5,400.4 L150.0,399.5 L150.5,398.6 L151.0,397.7 L151.5,396.8 L152.0,396.0 L152.5,395.3 L153.0,394.7 L153.5,394.2 L154.0,394.0 L154.5,394.1 L155.0,394.3 L155.5,394.6 L156.0,394.9 L156.5,395.3 L157.0,395.8 L157.5,396.2 L158.0,396.5 L158.5,396.6 L159.0,396.0 L159.5,395.1 L160.0,394.1 L160.5,393.0 L161.0,391.8 L161.5,390.4 L162.0,388.9 L162.5,387.1 L163.0,385.3 L163.5,383.7 L164.0,382.2 L164.5,381.2 L165.0,381.3 L165.5,382.0 L166.0,383.1 L166.5,385.0 L167.0,386.8 L167.5,388.5 L168.0,390.1 L168.5,391.4 L169.0,392.6 L169.5,393.1 L170.0,392.5 L170.5,391.2 L171.0,389.9 L171.5,388.5 L172.0,386.8 L172.5,384.8 L173.0,381.8 L173.5,378.3 L174.0,374.9 L174.5,372.6 L175.0,373.2 L175.5,374.6 L176.0,376.1 L176.5,377.9 L177.0,380.1 L177.5,382.7 L178.0,385.6 L178.5,388.5 L179.0,391.8 L179.5,394.3 L180.0,395.1 L180.5,395.4 L181.0,395.5 L181.5,395.0 L182.0,394.2 L182.5,393.2 L183.0,392.0 L183.5,390.8 L184.0,389.9 L184.5,389.1 L185.0,388.9 L185.5,389.3 L186.0,389.8 L186.5,390.5 L187.0,391.4 L187.5,392.4 L188.0,393.6 L188.5,395.0 L189.0,396.2 L189.5,397.2 L190.0,398.1 L190.5,398.8 L191.0,399.2 L191.5,399.3 L192.0,399.5 L192.5,399.6 L193.0,399.6 L193.5,399.7 L194.0,399.8 L194.5,399.8 L195.0,399.9 L195.5,399.9 L196.0,400.0 L196.5,400.1 L197.0,400.3 L197.5,400.5 L198.0,400.8 L198.5,401.0 L199.0,401.2 L199.5,401.3 L200.0,401.5 L200.5,401.6 L201.0,401.7 L201.5,401.7 L202.0,401.6 L202.5,401.4 L203.0,401.3 L203.5,401.1 L204.0,401.0 L204.5,400.9 L205.0,400.7 L205.5,400.6 L206.0,400.5 L206.5,400.5 L207.0,400.6 L207.5,400.8 L208.0,401.1 L208.5,401.3 L209.0,401.4 L209.5,401.6 L210.0,401.8 L210.5,401.9 L211.0,402.0 L211.5,402.1 L212.0,402.1 L212.5,402.2 L213.0,402.2 L213.5,402.2 L214.0,402.2 L214.5,402.2 L215.0,402.2 L215.5,402.2 L216.0,402.2 L216.5,402.2 L217.0,402.2 L217.5,402.1 L218.0,402.1 L218.5,402.1 L219.0,402.0 L219.5,401.9 L220.0,401.8 L220.5,401.7 L221.0,401.6 L221.5,401.5 L222.0,401.3 L222.5,401.2 L223.0,401.0 L223.5,400.9 L224.0,400.8 L224.5,400.7 L225.0,400.6 L225.5,400.5 L226.0,400.4 L226.5,400.3 L226.5,400.3" fill="none" stroke="#2E7DB4" stroke-width="1.95" stroke-linejoin="round"/>
<line x1="175.00" y1="404.85" x2="175.00" y2="364.10" stroke="#6E6E6E" stroke-width="1" stroke-dasharray="3.4 3.8"/>
<rect x="236.67" y="351.80" width="113.33" height="12.3" fill="#D9D9D9"/>
<path d="M241.8,400.2 L242.3,400.0 L242.8,399.8 L243.3,399.5 L243.8,399.3 L244.3,399.1 L244.8,398.9 L245.3,398.8 L245.8,398.6 L246.3,398.4 L246.8,398.2 L247.3,398.1 L247.8,397.9 L248.3,397.7 L248.8,397.6 L249.3,397.4 L249.8,397.2 L250.3,397.1 L250.8,396.9 L251.3,396.8 L251.8,396.7 L252.3,396.5 L252.8,396.4 L253.3,396.3 L253.8,396.2 L254.3,396.0 L254.8,395.9 L255.3,395.8 L255.8,395.7 L256.3,395.6 L256.8,395.5 L257.3,395.4 L257.8,395.3 L258.3,395.2 L258.8,395.1 L259.3,395.0 L259.8,395.0 L260.3,394.9 L260.8,394.9 L261.3,394.8 L261.8,394.8 L262.3,394.8 L262.8,394.7 L263.3,394.7 L263.8,394.7 L264.3,394.6 L264.8,394.6 L265.3,394.5 L265.8,394.5 L266.3,394.4 L266.8,394.4 L267.3,394.3 L267.8,394.3 L268.3,394.2 L268.8,394.2 L269.3,394.1 L269.8,394.1 L270.3,394.0 L270.8,393.9 L271.3,393.8 L271.8,393.8 L272.3,393.7 L272.8,393.6 L273.3,393.5 L273.8,393.4 L274.3,393.3 L274.8,393.2 L275.3,393.1 L275.8,392.9 L276.3,392.8 L276.8,392.7 L277.3,392.5 L277.8,392.4 L278.3,392.2 L278.8,392.1 L279.3,391.9 L279.8,391.8 L280.3,391.6 L280.8,391.5 L281.3,391.4 L281.8,391.3 L282.3,391.1 L282.8,391.0 L283.3,390.9 L283.8,390.8 L284.3,390.8 L284.8,390.8 L285.3,390.8 L285.8,390.9 L286.3,390.9 L286.8,390.9 L287.3,391.0 L287.8,391.1 L288.3,391.2 L288.8,391.3 L289.3,391.5 L289.8,391.7 L290.3,391.8 L290.8,392.0 L291.3,392.2 L291.8,392.4 L292.3,392.6 L292.8,392.8 L293.3,393.0 L293.8,393.2 L294.3,393.4 L294.8,393.6 L295.3,393.8 L295.8,394.0 L296.3,394.3 L296.8,394.5 L297.3,394.8 L297.8,395.1 L298.3,395.4 L298.8,395.6 L299.3,395.9 L299.8,396.2 L300.3,396.4 L300.8,396.7 L301.3,396.9 L301.8,397.1 L302.3,397.2 L302.8,397.3 L303.3,397.3 L303.8,397.4 L304.3,397.5 L304.8,397.5 L305.3,397.6 L305.8,397.6 L306.3,397.7 L306.8,397.8 L307.3,397.8 L307.8,397.9 L308.3,397.9 L308.8,398.0 L309.3,398.0 L309.8,398.1 L310.3,398.1 L310.8,398.2 L311.3,398.2 L311.8,398.2 L312.3,398.3 L312.8,398.3 L313.3,398.3 L313.8,398.3 L314.3,398.4 L314.8,398.4 L315.3,398.4 L315.8,398.4 L316.3,398.4 L316.8,398.5 L317.3,398.5 L317.8,398.5 L318.3,398.6 L318.8,398.6 L319.3,398.7 L319.8,398.7 L320.3,398.8 L320.8,398.9 L321.3,398.9 L321.8,399.0 L322.3,399.1 L322.8,399.1 L323.3,399.2 L323.8,399.2 L324.3,399.3 L324.8,399.3 L325.3,399.4 L325.8,399.5 L326.3,399.5 L326.8,399.6 L327.3,399.7 L327.8,399.7 L328.3,399.8 L328.8,399.9 L329.3,399.9 L329.8,400.0 L330.3,400.1 L330.8,400.2 L331.3,400.3 L331.8,400.4 L332.3,400.4 L332.8,400.5 L333.3,400.6 L333.8,400.7 L334.3,400.8 L334.8,400.8 L335.3,400.9 L335.8,401.0 L336.3,401.1 L336.8,401.2 L337.3,401.3 L337.8,401.4 L338.3,401.5 L338.8,401.6 L339.3,401.7 L339.8,401.9 L340.3,402.0 L340.8,402.1 L341.3,402.2 L341.8,402.3 L342.3,402.5 L342.8,402.6 L343.3,402.7 L343.8,402.8 L344.3,402.9 L344.8,403.0 L344.8,403.0" fill="none" stroke="#D07137" stroke-width="1.95" stroke-linejoin="round"/>
<path d="M241.8,399.7 L242.3,399.4 L242.8,399.2 L243.3,398.9 L243.8,398.6 L244.3,398.4 L244.8,398.1 L245.3,397.9 L245.8,397.6 L246.3,397.4 L246.8,397.2 L247.3,397.0 L247.8,396.7 L248.3,396.5 L248.8,396.3 L249.3,396.1 L249.8,395.9 L250.3,395.7 L250.8,395.5 L251.3,395.3 L251.8,395.1 L252.3,394.9 L252.8,394.7 L253.3,394.5 L253.8,394.3 L254.3,394.1 L254.8,393.9 L255.3,393.7 L255.8,393.5 L256.3,393.3 L256.8,393.0 L257.3,392.8 L257.8,392.6 L258.3,392.5 L258.8,392.3 L259.3,392.2 L259.8,392.1 L260.3,392.0 L260.8,391.9 L261.3,391.8 L261.8,391.8 L262.3,391.8 L262.8,391.7 L263.3,391.7 L263.8,391.7 L264.3,391.7 L264.8,391.7 L265.3,391.7 L265.8,391.8 L266.3,391.9 L266.8,391.9 L267.3,392.0 L267.8,392.0 L268.3,392.1 L268.8,392.2 L269.3,392.2 L269.8,392.3 L270.3,392.3 L270.8,392.3 L271.3,392.4 L271.8,392.4 L272.3,392.4 L272.8,392.4 L273.3,392.4 L273.8,392.4 L274.3,392.4 L274.8,392.4 L275.3,392.3 L275.8,392.3 L276.3,392.3 L276.8,392.2 L277.3,392.1 L277.8,392.0 L278.3,391.9 L278.8,391.8 L279.3,391.7 L279.8,391.5 L280.3,391.4 L280.8,391.3 L281.3,391.2 L281.8,391.1 L282.3,391.0 L282.8,390.9 L283.3,390.8 L283.8,390.8 L284.3,390.8 L284.8,390.8 L285.3,390.8 L285.8,390.9 L286.3,390.9 L286.8,390.9 L287.3,390.9 L287.8,391.0 L288.3,391.0 L288.8,391.1 L289.3,391.1 L289.8,391.2 L290.3,391.3 L290.8,391.4 L291.3,391.6 L291.8,391.7 L292.3,391.9 L292.8,392.2 L293.3,392.4 L293.8,392.7 L294.3,392.9 L294.8,393.2 L295.3,393.6 L295.8,393.9 L296.3,394.3 L296.8,394.6 L297.3,394.9 L297.8,395.3 L298.3,395.6 L298.8,396.0 L299.3,396.3 L299.8,396.6 L300.3,397.0 L300.8,397.3 L301.3,397.6 L301.8,397.9 L302.3,398.2 L302.8,398.4 L303.3,398.6 L303.8,398.8 L304.3,399.0 L304.8,399.2 L305.3,399.4 L305.8,399.5 L306.3,399.6 L306.8,399.8 L307.3,399.9 L307.8,400.0 L308.3,400.1 L308.8,400.2 L309.3,400.2 L309.8,400.3 L310.3,400.3 L310.8,400.4 L311.3,400.4 L311.8,400.4 L312.3,400.5 L312.8,400.5 L313.3,400.5 L313.8,400.5 L314.3,400.5 L314.8,400.5 L315.3,400.6 L315.8,400.6 L316.3,400.6 L316.8,400.6 L317.3,400.6 L317.8,400.6 L318.3,400.6 L318.8,400.6 L319.3,400.6 L319.8,400.6 L320.3,400.7 L320.8,400.7 L321.3,400.7 L321.8,400.7 L322.3,400.7 L322.8,400.7 L323.3,400.7 L323.8,400.7 L324.3,400.7 L324.8,400.8 L325.3,400.8 L325.8,400.8 L326.3,400.8 L326.8,400.9 L327.3,400.9 L327.8,400.9 L328.3,400.9 L328.8,401.0 L329.3,401.0 L329.8,401.1 L330.3,401.1 L330.8,401.2 L331.3,401.3 L331.8,401.3 L332.3,401.4 L332.8,401.4 L333.3,401.5 L333.8,401.5 L334.3,401.5 L334.8,401.6 L335.3,401.6 L335.8,401.7 L336.3,401.7 L336.8,401.8 L337.3,401.8 L337.8,401.9 L338.3,401.9 L338.8,402.0 L339.3,402.1 L339.8,402.2 L340.3,402.3 L340.8,402.3 L341.3,402.4 L341.8,402.5 L342.3,402.6 L342.8,402.7 L343.3,402.7 L343.8,402.8 L344.3,402.9 L344.8,403.0 L344.8,403.0" fill="none" stroke="#2E7DB4" stroke-width="1.95" stroke-linejoin="round"/>
<line x1="293.33" y1="404.85" x2="293.33" y2="364.10" stroke="#6E6E6E" stroke-width="1" stroke-dasharray="3.4 3.8"/>
<line x1="5.15" y1="405.15" x2="5.15" y2="406.95" stroke="#333" stroke-width="0.8"/>
<line x1="56.67" y1="405.15" x2="56.67" y2="406.95" stroke="#333" stroke-width="0.8"/>
<line x1="108.18" y1="405.15" x2="108.18" y2="406.95" stroke="#333" stroke-width="0.8"/>
<line x1="123.48" y1="405.15" x2="123.48" y2="406.95" stroke="#333" stroke-width="0.8"/>
<line x1="175.00" y1="405.15" x2="175.00" y2="406.95" stroke="#333" stroke-width="0.8"/>
<line x1="226.52" y1="405.15" x2="226.52" y2="406.95" stroke="#333" stroke-width="0.8"/>
<line x1="241.82" y1="405.15" x2="241.82" y2="406.95" stroke="#333" stroke-width="0.8"/>
<line x1="293.33" y1="405.15" x2="293.33" y2="406.95" stroke="#333" stroke-width="0.8"/>
<line x1="344.85" y1="405.15" x2="344.85" y2="406.95" stroke="#333" stroke-width="0.8"/>
<g style="will-change:transform" text-rendering="geometricPrecision"><text x="0" y="6.50" font-family="'Liberation Sans', sans-serif" font-size="8.6" fill="#000">Random Allocation Games</text><text x="0" y="17.90" font-family="'Liberation Sans', sans-serif" font-size="6.9" fill="#000" stroke="#000" stroke-width="0.05">Raw data distributions of coins to DISTANT cup comparing <tspan font-weight="bold" fill="#2E7DB8" stroke="#2E7DB8">SELF</tspan> and <tspan font-weight="bold" fill="#D07137" stroke="#D07137">LOCAL</tspan> games</text><text x="33.00" y="32.30" font-family="'Liberation Sans', sans-serif" font-size="5.8" letter-spacing="-0.1" fill="#1A1A1A" stroke="#1A1A1A" stroke-width="0.1" text-anchor="middle">Cachoeira</text><text x="104.00" y="32.30" font-family="'Liberation Sans', sans-serif" font-size="5.8" letter-spacing="-0.1" fill="#1A1A1A" stroke="#1A1A1A" stroke-width="0.1" text-anchor="middle">Coastal Tanna</text><text x="175.00" y="32.30" font-family="'Liberation Sans', sans-serif" font-size="5.8" letter-spacing="-0.1" fill="#1A1A1A" stroke="#1A1A1A" stroke-width="0.1" text-anchor="middle">Hadza</text><text x="246.00" y="32.30" font-family="'Liberation Sans', sans-serif" font-size="5.8" letter-spacing="-0.1" fill="#1A1A1A" stroke="#1A1A1A" stroke-width="0.1" text-anchor="middle">Huatasani</text><text x="317.00" y="32.30" font-family="'Liberation Sans', sans-serif" font-size="5.8" letter-spacing="-0.1" fill="#1A1A1A" stroke="#1A1A1A" stroke-width="0.1" text-anchor="middle">Inland Tanna</text><text x="33.00" y="90.35" font-family="'Liberation Sans', sans-serif" font-size="5.8" letter-spacing="-0.1" fill="#1A1A1A" stroke="#1A1A1A" stroke-width="0.1" text-anchor="middle">Kananga</text><text x="104.00" y="90.35" font-family="'Liberation Sans', sans-serif" font-size="5.8" letter-spacing="-0.1" fill="#1A1A1A" stroke="#1A1A1A" stroke-width="0.1" text-anchor="middle">Lovu Fiji</text><text x="175.00" y="90.35" font-family="'Liberation Sans', sans-serif" font-size="5.8" letter-spacing="-0.1" fill="#1A1A1A" stroke="#1A1A1A" stroke-width="0.1" text-anchor="middle">Marajo</text><text x="246.00" y="90.35" font-family="'Liberation Sans', sans-serif" font-size="5.8" letter-spacing="-0.1" fill="#1A1A1A" stroke="#1A1A1A" stroke-width="0.1" text-anchor="middle">Mauritius</text><text x="317.00" y="90.35" font-family="'Liberation Sans', sans-serif" font-size="5.8" letter-spacing="-0.1" fill="#1A1A1A" stroke="#1A1A1A" stroke-width="0.1" text-anchor="middle">Mysore</text><text x="33.00" y="148.40" font-family="'Liberation Sans', sans-serif" font-size="5.8" letter-spacing="-0.1" fill="#1A1A1A" stroke="#1A1A1A" stroke-width="0.1" text-anchor="middle">Samburu</text><text x="104.00" y="148.40" font-family="'Liberation Sans', sans-serif" font-size="5.8" letter-spacing="-0.1" fill="#1A1A1A" stroke="#1A1A1A" stroke-width="0.1" text-anchor="middle">Sursurunga</text><text x="175.00" y="148.40" font-family="'Liberation Sans', sans-serif" font-size="5.8" letter-spacing="-0.1" fill="#1A1A1A" stroke="#1A1A1A" stroke-width="0.1" text-anchor="middle">Turkana</text><text x="246.00" y="148.40" font-family="'Liberation Sans', sans-serif" font-size="5.8" letter-spacing="-0.1" fill="#1A1A1A" stroke="#1A1A1A" stroke-width="0.1" text-anchor="middle">Tyva Republic</text><text x="317.00" y="148.40" font-family="'Liberation Sans', sans-serif" font-size="5.8" letter-spacing="-0.1" fill="#1A1A1A" stroke="#1A1A1A" stroke-width="0.1" text-anchor="middle">Yasawa Fiji</text><text x="3.00" y="200.85" font-family="'Liberation Sans', sans-serif" font-size="4.9" fill="#4D4D4D" text-anchor="middle">0</text><text x="23.00" y="200.85" font-family="'Liberation Sans', sans-serif" font-size="4.9" fill="#4D4D4D" text-anchor="middle">10</text><text x="43.00" y="200.85" font-family="'Liberation Sans', sans-serif" font-size="4.9" fill="#4D4D4D" text-anchor="middle">20</text><text x="63.00" y="200.85" font-family="'Liberation Sans', sans-serif" font-size="4.9" fill="#4D4D4D" text-anchor="middle">30</text><text x="74.00" y="200.85" font-family="'Liberation Sans', sans-serif" font-size="4.9" fill="#4D4D4D" text-anchor="middle">0</text><text x="94.00" y="200.85" font-family="'Liberation Sans', sans-serif" font-size="4.9" fill="#4D4D4D" text-anchor="middle">10</text><text x="114.00" y="200.85" font-family="'Liberation Sans', sans-serif" font-size="4.9" fill="#4D4D4D" text-anchor="middle">20</text><text x="134.00" y="200.85" font-family="'Liberation Sans', sans-serif" font-size="4.9" fill="#4D4D4D" text-anchor="middle">30</text><text x="145.00" y="200.85" font-family="'Liberation Sans', sans-serif" font-size="4.9" fill="#4D4D4D" text-anchor="middle">0</text><text x="165.00" y="200.85" font-family="'Liberation Sans', sans-serif" font-size="4.9" fill="#4D4D4D" text-anchor="middle">10</text><text x="185.00" y="200.85" font-family="'Liberation Sans', sans-serif" font-size="4.9" fill="#4D4D4D" text-anchor="middle">20</text><text x="205.00" y="200.85" font-family="'Liberation Sans', sans-serif" font-size="4.9" fill="#4D4D4D" text-anchor="middle">30</text><text x="216.00" y="200.85" font-family="'Liberation Sans', sans-serif" font-size="4.9" fill="#4D4D4D" text-anchor="middle">0</text><text x="236.00" y="200.85" font-family="'Liberation Sans', sans-serif" font-size="4.9" fill="#4D4D4D" text-anchor="middle">10</text><text x="256.00" y="200.85" font-family="'Liberation Sans', sans-serif" font-size="4.9" fill="#4D4D4D" text-anchor="middle">20</text><text x="276.00" y="200.85" font-family="'Liberation Sans', sans-serif" font-size="4.9" fill="#4D4D4D" text-anchor="middle">30</text><text x="287.00" y="200.85" font-family="'Liberation Sans', sans-serif" font-size="4.9" fill="#4D4D4D" text-anchor="middle">0</text><text x="307.00" y="200.85" font-family="'Liberation Sans', sans-serif" font-size="4.9" fill="#4D4D4D" text-anchor="middle">10</text><text x="327.00" y="200.85" font-family="'Liberation Sans', sans-serif" font-size="4.9" fill="#4D4D4D" text-anchor="middle">20</text><text x="347.00" y="200.85" font-family="'Liberation Sans', sans-serif" font-size="4.9" fill="#4D4D4D" text-anchor="middle">30</text><text x="0" y="218.30" font-family="'Liberation Sans', sans-serif" font-size="8.6" fill="#000">Dictator Games</text><text x="0" y="229.70" font-family="'Liberation Sans', sans-serif" font-size="6.9" fill="#000" stroke="#000" stroke-width="0.05">Raw data distributions of coins to DISTANT cup comparing <tspan font-weight="bold" fill="#2E7DB8" stroke="#2E7DB8">SELF</tspan> and <tspan font-weight="bold" fill="#D07137" stroke="#D07137">LOCAL</tspan> games</text><text x="56.67" y="244.10" font-family="'Liberation Sans', sans-serif" font-size="5.8" letter-spacing="-0.1" fill="#1A1A1A" stroke="#1A1A1A" stroke-width="0.1" text-anchor="middle">Cachoeira</text><text x="175.00" y="244.10" font-family="'Liberation Sans', sans-serif" font-size="5.8" letter-spacing="-0.1" fill="#1A1A1A" stroke="#1A1A1A" stroke-width="0.1" text-anchor="middle">Hadza</text><text x="293.33" y="244.10" font-family="'Liberation Sans', sans-serif" font-size="5.8" letter-spacing="-0.1" fill="#1A1A1A" stroke="#1A1A1A" stroke-width="0.1" text-anchor="middle">Huatasani</text><text x="56.67" y="302.15" font-family="'Liberation Sans', sans-serif" font-size="5.8" letter-spacing="-0.1" fill="#1A1A1A" stroke="#1A1A1A" stroke-width="0.1" text-anchor="middle">Inland Tanna</text><text x="175.00" y="302.15" font-family="'Liberation Sans', sans-serif" font-size="5.8" letter-spacing="-0.1" fill="#1A1A1A" stroke="#1A1A1A" stroke-width="0.1" text-anchor="middle">Kananga</text><text x="293.33" y="302.15" font-family="'Liberation Sans', sans-serif" font-size="5.8" letter-spacing="-0.1" fill="#1A1A1A" stroke="#1A1A1A" stroke-width="0.1" text-anchor="middle">Mauritius</text><text x="56.67" y="360.20" font-family="'Liberation Sans', sans-serif" font-size="5.8" letter-spacing="-0.1" fill="#1A1A1A" stroke="#1A1A1A" stroke-width="0.1" text-anchor="middle">Mysore</text><text x="175.00" y="360.20" font-family="'Liberation Sans', sans-serif" font-size="5.8" letter-spacing="-0.1" fill="#1A1A1A" stroke="#1A1A1A" stroke-width="0.1" text-anchor="middle">Sursurunga</text><text x="293.33" y="360.20" font-family="'Liberation Sans', sans-serif" font-size="5.8" letter-spacing="-0.1" fill="#1A1A1A" stroke="#1A1A1A" stroke-width="0.1" text-anchor="middle">Turkana</text><text x="5.15" y="412.65" font-family="'Liberation Sans', sans-serif" font-size="4.9" fill="#4D4D4D" text-anchor="middle">0</text><text x="56.67" y="412.65" font-family="'Liberation Sans', sans-serif" font-size="4.9" fill="#4D4D4D" text-anchor="middle">5</text><text x="108.18" y="412.65" font-family="'Liberation Sans', sans-serif" font-size="4.9" fill="#4D4D4D" text-anchor="middle">10</text><text x="123.48" y="412.65" font-family="'Liberation Sans', sans-serif" font-size="4.9" fill="#4D4D4D" text-anchor="middle">0</text><text x="175.00" y="412.65" font-family="'Liberation Sans', sans-serif" font-size="4.9" fill="#4D4D4D" text-anchor="middle">5</text><text x="226.52" y="412.65" font-family="'Liberation Sans', sans-serif" font-size="4.9" fill="#4D4D4D" text-anchor="middle">10</text><text x="241.82" y="412.65" font-family="'Liberation Sans', sans-serif" font-size="4.9" fill="#4D4D4D" text-anchor="middle">0</text><text x="293.33" y="412.65" font-family="'Liberation Sans', sans-serif" font-size="4.9" fill="#4D4D4D" text-anchor="middle">5</text><text x="344.85" y="412.65" font-family="'Liberation Sans', sans-serif" font-size="4.9" fill="#4D4D4D" text-anchor="middle">10</text></g>
</svg>
</body></html>
